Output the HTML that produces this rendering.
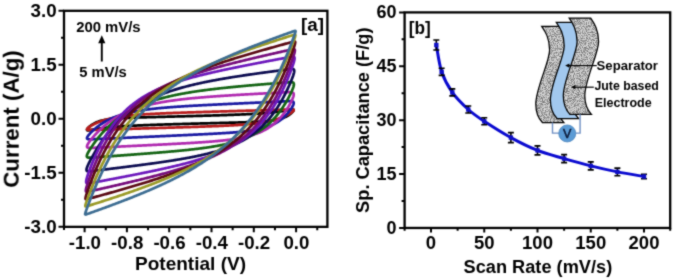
<!DOCTYPE html>
<html><head><meta charset="utf-8"><style>
html,body{margin:0;padding:0;background:#fff;}
body{width:675px;height:279px;overflow:hidden;}
svg{display:block;}
</style></head><body>
<svg width="675" height="279" viewBox="0 0 675 279">
<defs><filter id="gb" x="0" y="0" width="100%" height="100%" color-interpolation-filters="sRGB"><feConvolveMatrix order="3" kernelMatrix="0.03 0.1 0.03 0.1 0.48 0.1 0.03 0.1 0.03" edgeMode="duplicate" preserveAlpha="true"/></filter></defs>
<g filter="url(#gb)"><rect width="675" height="279" fill="#fff"/>
<g font-family='"Liberation Sans", sans-serif' font-weight="bold" fill="#000">
<g fill="none" stroke-width="2.7" stroke-linejoin="round">
<path d="M86.96,129.83 L87.06,129.42 L87.34,128.91 L87.78,128.33 L88.36,127.70 L89.03,127.04 L89.78,126.39 L90.57,125.75 L91.39,125.15 L92.22,124.59 L93.06,124.07 L93.91,123.59 L94.75,123.14 L95.60,122.73 L96.44,122.36 L97.29,122.01 L98.14,121.69 L98.98,121.40 L99.83,121.13 L100.67,120.88 L101.52,120.65 L102.37,120.44 L103.21,120.25 L104.06,120.06 L104.90,119.90 L105.75,119.74 L106.60,119.60 L107.44,119.47 L108.29,119.34 L109.13,119.23 L109.98,119.12 L110.83,119.02 L111.67,118.93 L112.52,118.84 L113.36,118.76 L114.21,118.68 L115.06,118.61 L115.90,118.54 L116.75,118.48 L117.59,118.42 L118.44,118.36 L119.29,118.31 L120.13,118.26 L120.98,118.21 L121.82,118.16 L122.67,118.12 L123.52,118.08 L124.36,118.04 L125.21,118.00 L126.05,117.96 L126.90,117.92 L127.75,117.89 L128.59,117.85 L129.44,117.82 L130.28,117.79 L131.13,117.76 L131.98,117.73 L132.82,117.70 L133.67,117.67 L134.51,117.64 L135.36,117.62 L136.21,117.59 L137.05,117.56 L137.90,117.54 L138.74,117.51 L139.59,117.48 L140.44,117.46 L141.28,117.43 L142.13,117.41 L142.97,117.38 L143.82,117.36 L144.67,117.34 L145.51,117.31 L146.36,117.29 L147.20,117.27 L148.05,117.24 L148.90,117.22 L149.74,117.20 L150.59,117.17 L151.43,117.15 L152.28,117.13 L153.13,117.10 L153.97,117.08 L154.82,117.06 L155.66,117.04 L156.51,117.01 L157.36,116.99 L158.20,116.97 L159.05,116.95 L159.89,116.92 L160.74,116.90 L161.59,116.88 L162.43,116.86 L163.28,116.84 L164.12,116.81 L164.97,116.79 L165.82,116.77 L166.66,116.75 L167.51,116.72 L168.35,116.70 L169.20,116.68 L170.05,116.66 L170.89,116.63 L171.74,116.61 L172.58,116.59 L173.43,116.57 L174.28,116.55 L175.12,116.52 L175.97,116.50 L176.81,116.48 L177.66,116.46 L178.51,116.43 L179.35,116.41 L180.20,116.39 L181.04,116.37 L181.89,116.34 L182.74,116.32 L183.58,116.30 L184.43,116.28 L185.27,116.25 L186.12,116.23 L186.97,116.21 L187.81,116.18 L188.66,116.16 L189.50,116.14 L190.35,116.12 L191.20,116.09 L192.04,116.07 L192.89,116.05 L193.73,116.02 L194.58,116.00 L195.43,115.98 L196.27,115.95 L197.12,115.93 L197.96,115.91 L198.81,115.88 L199.66,115.86 L200.50,115.84 L201.35,115.81 L202.19,115.79 L203.04,115.76 L203.89,115.74 L204.73,115.72 L205.58,115.69 L206.42,115.67 L207.27,115.64 L208.12,115.62 L208.96,115.59 L209.81,115.57 L210.65,115.54 L211.50,115.52 L212.35,115.49 L213.19,115.47 L214.04,115.44 L214.88,115.41 L215.73,115.39 L216.58,115.36 L217.42,115.34 L218.27,115.31 L219.11,115.28 L219.96,115.25 L220.81,115.23 L221.65,115.20 L222.50,115.17 L223.34,115.14 L224.19,115.12 L225.04,115.09 L225.88,115.06 L226.73,115.03 L227.57,115.00 L228.42,114.97 L229.27,114.94 L230.11,114.91 L230.96,114.88 L231.80,114.85 L232.65,114.82 L233.50,114.78 L234.34,114.75 L235.19,114.72 L236.03,114.69 L236.88,114.65 L237.73,114.62 L238.57,114.58 L239.42,114.55 L240.26,114.51 L241.11,114.48 L241.96,114.44 L242.80,114.40 L243.65,114.36 L244.49,114.32 L245.34,114.28 L246.19,114.24 L247.03,114.20 L247.88,114.16 L248.72,114.12 L249.57,114.07 L250.42,114.03 L251.26,113.98 L252.11,113.94 L252.95,113.89 L253.80,113.84 L254.65,113.79 L255.49,113.74 L256.34,113.69 L257.18,113.64 L258.03,113.58 L258.88,113.52 L259.72,113.47 L260.57,113.41 L261.41,113.35 L262.26,113.29 L263.11,113.22 L263.95,113.16 L264.80,113.09 L265.64,113.02 L266.49,112.95 L267.34,112.88 L268.18,112.80 L269.03,112.73 L269.87,112.65 L270.72,112.57 L271.57,112.48 L272.41,112.39 L273.26,112.30 L274.10,112.21 L274.95,112.12 L275.80,112.02 L276.64,111.92 L277.49,111.81 L278.33,111.71 L279.18,111.60 L280.03,111.48 L280.87,111.36 L281.72,111.24 L282.56,111.11 L283.41,110.98 L284.26,110.85 L285.10,110.70 L285.95,110.56 L286.79,110.41 L287.64,110.26 L288.48,110.10 L289.31,109.94 L290.13,109.79 L290.92,109.65 L291.67,109.54 L292.34,109.47 L292.92,109.47 L293.36,109.55 L293.64,109.73 L293.74,110.03 L293.64,110.44 L293.36,110.95 L292.92,111.53 L292.34,112.16 L291.67,112.82 L290.92,113.47 L290.13,114.11 L289.31,114.71 L288.48,115.27 L287.64,115.79 L286.79,116.27 L285.95,116.72 L285.10,117.13 L284.26,117.50 L283.41,117.85 L282.56,118.17 L281.72,118.46 L280.87,118.73 L280.03,118.98 L279.18,119.21 L278.33,119.42 L277.49,119.61 L276.64,119.80 L275.80,119.96 L274.95,120.12 L274.10,120.26 L273.26,120.39 L272.41,120.52 L271.57,120.63 L270.72,120.74 L269.87,120.84 L269.03,120.93 L268.18,121.02 L267.34,121.10 L266.49,121.18 L265.64,121.25 L264.80,121.32 L263.95,121.38 L263.11,121.44 L262.26,121.50 L261.41,121.55 L260.57,121.60 L259.72,121.65 L258.88,121.70 L258.03,121.74 L257.18,121.78 L256.34,121.82 L255.49,121.86 L254.65,121.90 L253.80,121.94 L252.95,121.97 L252.11,122.01 L251.26,122.04 L250.42,122.07 L249.57,122.10 L248.72,122.13 L247.88,122.16 L247.03,122.19 L246.19,122.22 L245.34,122.24 L244.49,122.27 L243.65,122.30 L242.80,122.32 L241.96,122.35 L241.11,122.38 L240.26,122.40 L239.42,122.43 L238.57,122.45 L237.73,122.48 L236.88,122.50 L236.03,122.52 L235.19,122.55 L234.34,122.57 L233.50,122.59 L232.65,122.62 L231.80,122.64 L230.96,122.66 L230.11,122.69 L229.27,122.71 L228.42,122.73 L227.57,122.76 L226.73,122.78 L225.88,122.80 L225.04,122.82 L224.19,122.85 L223.34,122.87 L222.50,122.89 L221.65,122.91 L220.81,122.94 L219.96,122.96 L219.11,122.98 L218.27,123.00 L217.42,123.02 L216.58,123.05 L215.73,123.07 L214.88,123.09 L214.04,123.11 L213.19,123.14 L212.35,123.16 L211.50,123.18 L210.65,123.20 L209.81,123.23 L208.96,123.25 L208.12,123.27 L207.27,123.29 L206.42,123.31 L205.58,123.34 L204.73,123.36 L203.89,123.38 L203.04,123.40 L202.19,123.43 L201.35,123.45 L200.50,123.47 L199.66,123.49 L198.81,123.52 L197.96,123.54 L197.12,123.56 L196.27,123.58 L195.43,123.61 L194.58,123.63 L193.73,123.65 L192.89,123.68 L192.04,123.70 L191.20,123.72 L190.35,123.74 L189.50,123.77 L188.66,123.79 L187.81,123.81 L186.97,123.84 L186.12,123.86 L185.27,123.88 L184.43,123.91 L183.58,123.93 L182.74,123.95 L181.89,123.98 L181.04,124.00 L180.20,124.02 L179.35,124.05 L178.51,124.07 L177.66,124.10 L176.81,124.12 L175.97,124.14 L175.12,124.17 L174.28,124.19 L173.43,124.22 L172.58,124.24 L171.74,124.27 L170.89,124.29 L170.05,124.32 L169.20,124.34 L168.35,124.37 L167.51,124.39 L166.66,124.42 L165.82,124.45 L164.97,124.47 L164.12,124.50 L163.28,124.52 L162.43,124.55 L161.59,124.58 L160.74,124.61 L159.89,124.63 L159.05,124.66 L158.20,124.69 L157.36,124.72 L156.51,124.74 L155.66,124.77 L154.82,124.80 L153.97,124.83 L153.13,124.86 L152.28,124.89 L151.43,124.92 L150.59,124.95 L149.74,124.98 L148.90,125.01 L148.05,125.04 L147.20,125.08 L146.36,125.11 L145.51,125.14 L144.67,125.17 L143.82,125.21 L142.97,125.24 L142.13,125.28 L141.28,125.31 L140.44,125.35 L139.59,125.38 L138.74,125.42 L137.90,125.46 L137.05,125.50 L136.21,125.54 L135.36,125.58 L134.51,125.62 L133.67,125.66 L132.82,125.70 L131.98,125.74 L131.13,125.79 L130.28,125.83 L129.44,125.88 L128.59,125.92 L127.75,125.97 L126.90,126.02 L126.05,126.07 L125.21,126.12 L124.36,126.17 L123.52,126.22 L122.67,126.28 L121.82,126.34 L120.98,126.39 L120.13,126.45 L119.29,126.51 L118.44,126.57 L117.59,126.64 L116.75,126.70 L115.90,126.77 L115.06,126.84 L114.21,126.91 L113.36,126.98 L112.52,127.06 L111.67,127.13 L110.83,127.21 L109.98,127.29 L109.13,127.38 L108.29,127.47 L107.44,127.56 L106.60,127.65 L105.75,127.74 L104.90,127.84 L104.06,127.94 L103.21,128.05 L102.37,128.15 L101.52,128.26 L100.67,128.38 L99.83,128.50 L98.98,128.62 L98.14,128.75 L97.29,128.88 L96.44,129.01 L95.60,129.16 L94.75,129.30 L93.91,129.45 L93.06,129.60 L92.22,129.76 L91.39,129.92 L90.57,130.07 L89.78,130.21 L89.03,130.32 L88.36,130.39 L87.78,130.39 L87.34,130.31 L87.06,130.13Z" stroke="#000000"/>
<path d="M86.96,129.25 L87.06,128.93 L87.34,128.54 L87.78,128.11 L88.36,127.64 L89.03,127.14 L89.78,126.64 L90.57,126.15 L91.39,125.66 L92.22,125.18 L93.06,124.73 L93.91,124.29 L94.75,123.86 L95.60,123.46 L96.44,123.07 L97.29,122.70 L98.14,122.34 L98.98,122.00 L99.83,121.67 L100.67,121.35 L101.52,121.05 L102.37,120.75 L103.21,120.47 L104.06,120.21 L104.90,119.95 L105.75,119.70 L106.60,119.46 L107.44,119.23 L108.29,119.01 L109.13,118.80 L109.98,118.60 L110.83,118.40 L111.67,118.21 L112.52,118.03 L113.36,117.86 L114.21,117.69 L115.06,117.53 L115.90,117.37 L116.75,117.22 L117.59,117.08 L118.44,116.94 L119.29,116.81 L120.13,116.68 L120.98,116.55 L121.82,116.43 L122.67,116.31 L123.52,116.20 L124.36,116.09 L125.21,115.99 L126.05,115.89 L126.90,115.79 L127.75,115.69 L128.59,115.60 L129.44,115.51 L130.28,115.43 L131.13,115.34 L131.98,115.26 L132.82,115.18 L133.67,115.11 L134.51,115.03 L135.36,114.96 L136.21,114.89 L137.05,114.83 L137.90,114.76 L138.74,114.70 L139.59,114.63 L140.44,114.57 L141.28,114.51 L142.13,114.46 L142.97,114.40 L143.82,114.35 L144.67,114.29 L145.51,114.24 L146.36,114.19 L147.20,114.14 L148.05,114.09 L148.90,114.04 L149.74,114.00 L150.59,113.95 L151.43,113.91 L152.28,113.86 L153.13,113.82 L153.97,113.78 L154.82,113.74 L155.66,113.69 L156.51,113.65 L157.36,113.62 L158.20,113.58 L159.05,113.54 L159.89,113.50 L160.74,113.46 L161.59,113.43 L162.43,113.39 L163.28,113.36 L164.12,113.32 L164.97,113.29 L165.82,113.25 L166.66,113.22 L167.51,113.19 L168.35,113.15 L169.20,113.12 L170.05,113.09 L170.89,113.06 L171.74,113.03 L172.58,112.99 L173.43,112.96 L174.28,112.93 L175.12,112.90 L175.97,112.87 L176.81,112.84 L177.66,112.81 L178.51,112.78 L179.35,112.76 L180.20,112.73 L181.04,112.70 L181.89,112.67 L182.74,112.64 L183.58,112.61 L184.43,112.58 L185.27,112.56 L186.12,112.53 L186.97,112.50 L187.81,112.47 L188.66,112.45 L189.50,112.42 L190.35,112.39 L191.20,112.36 L192.04,112.34 L192.89,112.31 L193.73,112.28 L194.58,112.26 L195.43,112.23 L196.27,112.20 L197.12,112.18 L197.96,112.15 L198.81,112.13 L199.66,112.10 L200.50,112.07 L201.35,112.05 L202.19,112.02 L203.04,112.00 L203.89,111.97 L204.73,111.94 L205.58,111.92 L206.42,111.89 L207.27,111.87 L208.12,111.84 L208.96,111.82 L209.81,111.79 L210.65,111.77 L211.50,111.74 L212.35,111.72 L213.19,111.69 L214.04,111.67 L214.88,111.64 L215.73,111.61 L216.58,111.59 L217.42,111.56 L218.27,111.54 L219.11,111.51 L219.96,111.49 L220.81,111.46 L221.65,111.44 L222.50,111.41 L223.34,111.39 L224.19,111.36 L225.04,111.34 L225.88,111.31 L226.73,111.29 L227.57,111.27 L228.42,111.24 L229.27,111.22 L230.11,111.19 L230.96,111.17 L231.80,111.14 L232.65,111.12 L233.50,111.09 L234.34,111.07 L235.19,111.04 L236.03,111.02 L236.88,110.99 L237.73,110.97 L238.57,110.94 L239.42,110.92 L240.26,110.89 L241.11,110.87 L241.96,110.84 L242.80,110.82 L243.65,110.80 L244.49,110.77 L245.34,110.75 L246.19,110.72 L247.03,110.70 L247.88,110.67 L248.72,110.65 L249.57,110.62 L250.42,110.60 L251.26,110.57 L252.11,110.55 L252.95,110.52 L253.80,110.50 L254.65,110.48 L255.49,110.45 L256.34,110.43 L257.18,110.40 L258.03,110.38 L258.88,110.35 L259.72,110.33 L260.57,110.30 L261.41,110.28 L262.26,110.25 L263.11,110.23 L263.95,110.21 L264.80,110.18 L265.64,110.16 L266.49,110.13 L267.34,110.11 L268.18,110.08 L269.03,110.06 L269.87,110.03 L270.72,110.01 L271.57,109.98 L272.41,109.96 L273.26,109.94 L274.10,109.91 L274.95,109.89 L275.80,109.86 L276.64,109.84 L277.49,109.81 L278.33,109.79 L279.18,109.76 L280.03,109.74 L280.87,109.72 L281.72,109.69 L282.56,109.67 L283.41,109.64 L284.26,109.62 L285.10,109.59 L285.95,109.57 L286.79,109.54 L287.64,109.52 L288.48,109.50 L289.31,109.48 L290.13,109.47 L290.92,109.46 L291.67,109.48 L292.34,109.52 L292.92,109.60 L293.36,109.73 L293.64,109.92 L293.74,110.18 L293.64,110.50 L293.36,110.88 L292.92,111.32 L292.34,111.79 L291.67,112.28 L290.92,112.78 L290.13,113.28 L289.31,113.77 L288.48,114.24 L287.64,114.70 L286.79,115.14 L285.95,115.56 L285.10,115.97 L284.26,116.36 L283.41,116.73 L282.56,117.09 L281.72,117.43 L280.87,117.76 L280.03,118.08 L279.18,118.38 L278.33,118.67 L277.49,118.95 L276.64,119.22 L275.80,119.48 L274.95,119.73 L274.10,119.97 L273.26,120.20 L272.41,120.42 L271.57,120.63 L270.72,120.83 L269.87,121.03 L269.03,121.21 L268.18,121.40 L267.34,121.57 L266.49,121.74 L265.64,121.90 L264.80,122.05 L263.95,122.20 L263.11,122.35 L262.26,122.49 L261.41,122.62 L260.57,122.75 L259.72,122.88 L258.88,123.00 L258.03,123.11 L257.18,123.23 L256.34,123.33 L255.49,123.44 L254.65,123.54 L253.80,123.64 L252.95,123.73 L252.11,123.83 L251.26,123.91 L250.42,124.00 L249.57,124.08 L248.72,124.16 L247.88,124.24 L247.03,124.32 L246.19,124.39 L245.34,124.46 L244.49,124.53 L243.65,124.60 L242.80,124.67 L241.96,124.73 L241.11,124.79 L240.26,124.85 L239.42,124.91 L238.57,124.97 L237.73,125.03 L236.88,125.08 L236.03,125.14 L235.19,125.19 L234.34,125.24 L233.50,125.29 L232.65,125.34 L231.80,125.38 L230.96,125.43 L230.11,125.48 L229.27,125.52 L228.42,125.57 L227.57,125.61 L226.73,125.65 L225.88,125.69 L225.04,125.73 L224.19,125.77 L223.34,125.81 L222.50,125.85 L221.65,125.89 L220.81,125.93 L219.96,125.96 L219.11,126.00 L218.27,126.04 L217.42,126.07 L216.58,126.11 L215.73,126.14 L214.88,126.17 L214.04,126.21 L213.19,126.24 L212.35,126.27 L211.50,126.31 L210.65,126.34 L209.81,126.37 L208.96,126.40 L208.12,126.43 L207.27,126.46 L206.42,126.49 L205.58,126.52 L204.73,126.55 L203.89,126.58 L203.04,126.61 L202.19,126.64 L201.35,126.67 L200.50,126.70 L199.66,126.73 L198.81,126.76 L197.96,126.79 L197.12,126.82 L196.27,126.84 L195.43,126.87 L194.58,126.90 L193.73,126.93 L192.89,126.95 L192.04,126.98 L191.20,127.01 L190.35,127.04 L189.50,127.06 L188.66,127.09 L187.81,127.12 L186.97,127.14 L186.12,127.17 L185.27,127.20 L184.43,127.22 L183.58,127.25 L182.74,127.28 L181.89,127.30 L181.04,127.33 L180.20,127.35 L179.35,127.38 L178.51,127.41 L177.66,127.43 L176.81,127.46 L175.97,127.48 L175.12,127.51 L174.28,127.53 L173.43,127.56 L172.58,127.59 L171.74,127.61 L170.89,127.64 L170.05,127.66 L169.20,127.69 L168.35,127.71 L167.51,127.74 L166.66,127.76 L165.82,127.79 L164.97,127.81 L164.12,127.84 L163.28,127.86 L162.43,127.89 L161.59,127.91 L160.74,127.94 L159.89,127.96 L159.05,127.99 L158.20,128.01 L157.36,128.04 L156.51,128.06 L155.66,128.09 L154.82,128.11 L153.97,128.14 L153.13,128.16 L152.28,128.19 L151.43,128.21 L150.59,128.24 L149.74,128.26 L148.90,128.29 L148.05,128.31 L147.20,128.34 L146.36,128.36 L145.51,128.39 L144.67,128.41 L143.82,128.44 L142.97,128.46 L142.13,128.48 L141.28,128.51 L140.44,128.53 L139.59,128.56 L138.74,128.58 L137.90,128.61 L137.05,128.63 L136.21,128.66 L135.36,128.68 L134.51,128.71 L133.67,128.73 L132.82,128.76 L131.98,128.78 L131.13,128.81 L130.28,128.83 L129.44,128.85 L128.59,128.88 L127.75,128.90 L126.90,128.93 L126.05,128.95 L125.21,128.98 L124.36,129.00 L123.52,129.03 L122.67,129.05 L121.82,129.08 L120.98,129.10 L120.13,129.12 L119.29,129.15 L118.44,129.17 L117.59,129.20 L116.75,129.22 L115.90,129.25 L115.06,129.27 L114.21,129.30 L113.36,129.32 L112.52,129.35 L111.67,129.37 L110.83,129.39 L109.98,129.42 L109.13,129.44 L108.29,129.47 L107.44,129.49 L106.60,129.52 L105.75,129.54 L104.90,129.57 L104.06,129.59 L103.21,129.61 L102.37,129.64 L101.52,129.66 L100.67,129.69 L99.83,129.71 L98.98,129.74 L98.14,129.76 L97.29,129.79 L96.44,129.81 L95.60,129.84 L94.75,129.86 L93.91,129.88 L93.06,129.91 L92.22,129.93 L91.39,129.95 L90.57,129.96 L89.78,129.97 L89.03,129.95 L88.36,129.91 L87.78,129.83 L87.34,129.70 L87.06,129.51Z" stroke="#b81c1c"/>
<path d="M86.96,138.14 L87.06,137.60 L87.34,136.96 L87.78,136.23 L88.36,135.45 L89.03,134.62 L89.78,133.77 L90.57,132.92 L91.39,132.09 L92.22,131.27 L93.06,130.47 L93.91,129.70 L94.75,128.96 L95.60,128.24 L96.44,127.55 L97.29,126.87 L98.14,126.22 L98.98,125.60 L99.83,124.99 L100.67,124.41 L101.52,123.84 L102.37,123.29 L103.21,122.76 L104.06,122.25 L104.90,121.76 L105.75,121.28 L106.60,120.81 L107.44,120.37 L108.29,119.93 L109.13,119.51 L109.98,119.11 L110.83,118.72 L111.67,118.34 L112.52,117.97 L113.36,117.62 L114.21,117.27 L115.06,116.94 L115.90,116.62 L116.75,116.30 L117.59,116.00 L118.44,115.71 L119.29,115.42 L120.13,115.15 L120.98,114.88 L121.82,114.62 L122.67,114.37 L123.52,114.13 L124.36,113.89 L125.21,113.66 L126.05,113.44 L126.90,113.23 L127.75,113.02 L128.59,112.82 L129.44,112.62 L130.28,112.43 L131.13,112.24 L131.98,112.06 L132.82,111.89 L133.67,111.71 L134.51,111.55 L135.36,111.39 L136.21,111.23 L137.05,111.08 L137.90,110.93 L138.74,110.79 L139.59,110.64 L140.44,110.51 L141.28,110.37 L142.13,110.24 L142.97,110.12 L143.82,109.99 L144.67,109.87 L145.51,109.76 L146.36,109.64 L147.20,109.53 L148.05,109.42 L148.90,109.31 L149.74,109.21 L150.59,109.11 L151.43,109.01 L152.28,108.91 L153.13,108.82 L153.97,108.72 L154.82,108.63 L155.66,108.54 L156.51,108.45 L157.36,108.37 L158.20,108.28 L159.05,108.20 L159.89,108.12 L160.74,108.04 L161.59,107.96 L162.43,107.89 L163.28,107.81 L164.12,107.74 L164.97,107.67 L165.82,107.60 L166.66,107.53 L167.51,107.46 L168.35,107.39 L169.20,107.32 L170.05,107.26 L170.89,107.19 L171.74,107.13 L172.58,107.07 L173.43,107.01 L174.28,106.94 L175.12,106.88 L175.97,106.83 L176.81,106.77 L177.66,106.71 L178.51,106.65 L179.35,106.60 L180.20,106.54 L181.04,106.48 L181.89,106.43 L182.74,106.38 L183.58,106.32 L184.43,106.27 L185.27,106.22 L186.12,106.17 L186.97,106.12 L187.81,106.06 L188.66,106.01 L189.50,105.96 L190.35,105.92 L191.20,105.87 L192.04,105.82 L192.89,105.77 L193.73,105.72 L194.58,105.67 L195.43,105.63 L196.27,105.58 L197.12,105.53 L197.96,105.49 L198.81,105.44 L199.66,105.40 L200.50,105.35 L201.35,105.31 L202.19,105.26 L203.04,105.22 L203.89,105.17 L204.73,105.13 L205.58,105.09 L206.42,105.04 L207.27,105.00 L208.12,104.96 L208.96,104.91 L209.81,104.87 L210.65,104.83 L211.50,104.79 L212.35,104.74 L213.19,104.70 L214.04,104.66 L214.88,104.62 L215.73,104.58 L216.58,104.53 L217.42,104.49 L218.27,104.45 L219.11,104.41 L219.96,104.37 L220.81,104.33 L221.65,104.29 L222.50,104.25 L223.34,104.21 L224.19,104.17 L225.04,104.13 L225.88,104.09 L226.73,104.05 L227.57,104.01 L228.42,103.97 L229.27,103.93 L230.11,103.89 L230.96,103.85 L231.80,103.81 L232.65,103.77 L233.50,103.73 L234.34,103.69 L235.19,103.65 L236.03,103.61 L236.88,103.57 L237.73,103.53 L238.57,103.49 L239.42,103.45 L240.26,103.41 L241.11,103.37 L241.96,103.33 L242.80,103.30 L243.65,103.26 L244.49,103.22 L245.34,103.18 L246.19,103.14 L247.03,103.10 L247.88,103.06 L248.72,103.02 L249.57,102.99 L250.42,102.95 L251.26,102.91 L252.11,102.87 L252.95,102.83 L253.80,102.79 L254.65,102.75 L255.49,102.72 L256.34,102.68 L257.18,102.64 L258.03,102.60 L258.88,102.56 L259.72,102.52 L260.57,102.49 L261.41,102.45 L262.26,102.41 L263.11,102.37 L263.95,102.33 L264.80,102.29 L265.64,102.26 L266.49,102.22 L267.34,102.18 L268.18,102.14 L269.03,102.10 L269.87,102.07 L270.72,102.03 L271.57,101.99 L272.41,101.95 L273.26,101.91 L274.10,101.88 L274.95,101.84 L275.80,101.80 L276.64,101.76 L277.49,101.72 L278.33,101.69 L279.18,101.65 L280.03,101.61 L280.87,101.57 L281.72,101.53 L282.56,101.50 L283.41,101.46 L284.26,101.42 L285.10,101.38 L285.95,101.34 L286.79,101.31 L287.64,101.27 L288.48,101.24 L289.31,101.21 L290.13,101.20 L290.92,101.21 L291.67,101.27 L292.34,101.38 L292.92,101.59 L293.36,101.91 L293.64,102.38 L293.74,102.99 L293.64,103.76 L293.36,104.67 L292.92,105.68 L292.34,106.77 L291.67,107.90 L290.92,109.05 L290.13,110.17 L289.31,111.26 L288.48,112.31 L287.64,113.32 L286.79,114.27 L285.95,115.18 L285.10,116.04 L284.26,116.86 L283.41,117.64 L282.56,118.37 L281.72,119.07 L280.87,119.74 L280.03,120.37 L279.18,120.97 L278.33,121.54 L277.49,122.08 L276.64,122.59 L275.80,123.08 L274.95,123.55 L274.10,123.99 L273.26,124.41 L272.41,124.81 L271.57,125.19 L270.72,125.55 L269.87,125.90 L269.03,126.23 L268.18,126.54 L267.34,126.84 L266.49,127.13 L265.64,127.40 L264.80,127.66 L263.95,127.90 L263.11,128.14 L262.26,128.37 L261.41,128.58 L260.57,128.79 L259.72,128.98 L258.88,129.17 L258.03,129.35 L257.18,129.53 L256.34,129.69 L255.49,129.85 L254.65,130.00 L253.80,130.15 L252.95,130.29 L252.11,130.42 L251.26,130.55 L250.42,130.68 L249.57,130.80 L248.72,130.92 L247.88,131.03 L247.03,131.13 L246.19,131.24 L245.34,131.34 L244.49,131.44 L243.65,131.53 L242.80,131.62 L241.96,131.71 L241.11,131.79 L240.26,131.88 L239.42,131.96 L238.57,132.04 L237.73,132.11 L236.88,132.19 L236.03,132.26 L235.19,132.33 L234.34,132.40 L233.50,132.46 L232.65,132.53 L231.80,132.59 L230.96,132.66 L230.11,132.72 L229.27,132.78 L228.42,132.84 L227.57,132.89 L226.73,132.95 L225.88,133.01 L225.04,133.06 L224.19,133.11 L223.34,133.17 L222.50,133.22 L221.65,133.27 L220.81,133.32 L219.96,133.37 L219.11,133.42 L218.27,133.47 L217.42,133.52 L216.58,133.56 L215.73,133.61 L214.88,133.66 L214.04,133.70 L213.19,133.75 L212.35,133.79 L211.50,133.84 L210.65,133.88 L209.81,133.93 L208.96,133.97 L208.12,134.01 L207.27,134.06 L206.42,134.10 L205.58,134.14 L204.73,134.18 L203.89,134.23 L203.04,134.27 L202.19,134.31 L201.35,134.35 L200.50,134.39 L199.66,134.43 L198.81,134.47 L197.96,134.51 L197.12,134.56 L196.27,134.60 L195.43,134.64 L194.58,134.68 L193.73,134.72 L192.89,134.76 L192.04,134.80 L191.20,134.83 L190.35,134.87 L189.50,134.91 L188.66,134.95 L187.81,134.99 L186.97,135.03 L186.12,135.07 L185.27,135.11 L184.43,135.15 L183.58,135.19 L182.74,135.23 L181.89,135.26 L181.04,135.30 L180.20,135.34 L179.35,135.38 L178.51,135.42 L177.66,135.46 L176.81,135.50 L175.97,135.53 L175.12,135.57 L174.28,135.61 L173.43,135.65 L172.58,135.69 L171.74,135.73 L170.89,135.76 L170.05,135.80 L169.20,135.84 L168.35,135.88 L167.51,135.92 L166.66,135.96 L165.82,135.99 L164.97,136.03 L164.12,136.07 L163.28,136.11 L162.43,136.15 L161.59,136.18 L160.74,136.22 L159.89,136.26 L159.05,136.30 L158.20,136.34 L157.36,136.37 L156.51,136.41 L155.66,136.45 L154.82,136.49 L153.97,136.53 L153.13,136.56 L152.28,136.60 L151.43,136.64 L150.59,136.68 L149.74,136.71 L148.90,136.75 L148.05,136.79 L147.20,136.83 L146.36,136.87 L145.51,136.90 L144.67,136.94 L143.82,136.98 L142.97,137.02 L142.13,137.06 L141.28,137.09 L140.44,137.13 L139.59,137.17 L138.74,137.21 L137.90,137.24 L137.05,137.28 L136.21,137.32 L135.36,137.36 L134.51,137.40 L133.67,137.43 L132.82,137.47 L131.98,137.51 L131.13,137.55 L130.28,137.58 L129.44,137.62 L128.59,137.66 L127.75,137.70 L126.90,137.74 L126.05,137.77 L125.21,137.81 L124.36,137.85 L123.52,137.89 L122.67,137.92 L121.82,137.96 L120.98,138.00 L120.13,138.04 L119.29,138.07 L118.44,138.11 L117.59,138.15 L116.75,138.19 L115.90,138.23 L115.06,138.26 L114.21,138.30 L113.36,138.34 L112.52,138.38 L111.67,138.41 L110.83,138.45 L109.98,138.49 L109.13,138.53 L108.29,138.57 L107.44,138.60 L106.60,138.64 L105.75,138.68 L104.90,138.72 L104.06,138.75 L103.21,138.79 L102.37,138.83 L101.52,138.87 L100.67,138.91 L99.83,138.94 L98.98,138.98 L98.14,139.02 L97.29,139.06 L96.44,139.09 L95.60,139.13 L94.75,139.17 L93.91,139.21 L93.06,139.24 L92.22,139.28 L91.39,139.31 L90.57,139.33 L89.78,139.33 L89.03,139.30 L88.36,139.23 L87.78,139.10 L87.34,138.88 L87.06,138.57Z" stroke="#1a1aa2"/>
<path d="M86.96,146.50 L87.06,145.86 L87.34,145.09 L87.78,144.22 L88.36,143.26 L89.03,142.26 L89.78,141.22 L90.57,140.18 L91.39,139.15 L92.22,138.12 L93.06,137.12 L93.91,136.15 L94.75,135.19 L95.60,134.26 L96.44,133.35 L97.29,132.47 L98.14,131.60 L98.98,130.76 L99.83,129.94 L100.67,129.14 L101.52,128.36 L102.37,127.60 L103.21,126.86 L104.06,126.14 L104.90,125.43 L105.75,124.75 L106.60,124.08 L107.44,123.42 L108.29,122.78 L109.13,122.16 L109.98,121.56 L110.83,120.96 L111.67,120.39 L112.52,119.82 L113.36,119.27 L114.21,118.74 L115.06,118.22 L115.90,117.71 L116.75,117.21 L117.59,116.72 L118.44,116.25 L119.29,115.79 L120.13,115.33 L120.98,114.89 L121.82,114.46 L122.67,114.04 L123.52,113.63 L124.36,113.23 L125.21,112.84 L126.05,112.46 L126.90,112.09 L127.75,111.73 L128.59,111.37 L129.44,111.02 L130.28,110.69 L131.13,110.35 L131.98,110.03 L132.82,109.71 L133.67,109.41 L134.51,109.10 L135.36,108.81 L136.21,108.52 L137.05,108.24 L137.90,107.97 L138.74,107.70 L139.59,107.43 L140.44,107.18 L141.28,106.93 L142.13,106.68 L142.97,106.44 L143.82,106.20 L144.67,105.97 L145.51,105.75 L146.36,105.53 L147.20,105.31 L148.05,105.10 L148.90,104.90 L149.74,104.69 L150.59,104.50 L151.43,104.30 L152.28,104.11 L153.13,103.93 L153.97,103.75 L154.82,103.57 L155.66,103.39 L156.51,103.22 L157.36,103.06 L158.20,102.89 L159.05,102.73 L159.89,102.57 L160.74,102.42 L161.59,102.27 L162.43,102.12 L163.28,101.97 L164.12,101.83 L164.97,101.69 L165.82,101.55 L166.66,101.42 L167.51,101.29 L168.35,101.15 L169.20,101.03 L170.05,100.90 L170.89,100.78 L171.74,100.66 L172.58,100.54 L173.43,100.42 L174.28,100.31 L175.12,100.19 L175.97,100.08 L176.81,99.97 L177.66,99.87 L178.51,99.76 L179.35,99.66 L180.20,99.56 L181.04,99.46 L181.89,99.36 L182.74,99.26 L183.58,99.16 L184.43,99.07 L185.27,98.98 L186.12,98.88 L186.97,98.79 L187.81,98.70 L188.66,98.62 L189.50,98.53 L190.35,98.45 L191.20,98.36 L192.04,98.28 L192.89,98.20 L193.73,98.12 L194.58,98.04 L195.43,97.96 L196.27,97.88 L197.12,97.80 L197.96,97.73 L198.81,97.65 L199.66,97.58 L200.50,97.51 L201.35,97.44 L202.19,97.37 L203.04,97.29 L203.89,97.23 L204.73,97.16 L205.58,97.09 L206.42,97.02 L207.27,96.95 L208.12,96.89 L208.96,96.82 L209.81,96.76 L210.65,96.70 L211.50,96.63 L212.35,96.57 L213.19,96.51 L214.04,96.45 L214.88,96.38 L215.73,96.32 L216.58,96.26 L217.42,96.21 L218.27,96.15 L219.11,96.09 L219.96,96.03 L220.81,95.97 L221.65,95.92 L222.50,95.86 L223.34,95.80 L224.19,95.75 L225.04,95.69 L225.88,95.64 L226.73,95.58 L227.57,95.53 L228.42,95.48 L229.27,95.42 L230.11,95.37 L230.96,95.32 L231.80,95.26 L232.65,95.21 L233.50,95.16 L234.34,95.11 L235.19,95.06 L236.03,95.01 L236.88,94.96 L237.73,94.91 L238.57,94.86 L239.42,94.81 L240.26,94.76 L241.11,94.71 L241.96,94.66 L242.80,94.61 L243.65,94.56 L244.49,94.51 L245.34,94.46 L246.19,94.42 L247.03,94.37 L247.88,94.32 L248.72,94.27 L249.57,94.23 L250.42,94.18 L251.26,94.13 L252.11,94.09 L252.95,94.04 L253.80,93.99 L254.65,93.95 L255.49,93.90 L256.34,93.86 L257.18,93.81 L258.03,93.76 L258.88,93.72 L259.72,93.67 L260.57,93.63 L261.41,93.58 L262.26,93.54 L263.11,93.49 L263.95,93.45 L264.80,93.41 L265.64,93.36 L266.49,93.32 L267.34,93.27 L268.18,93.23 L269.03,93.18 L269.87,93.14 L270.72,93.10 L271.57,93.05 L272.41,93.01 L273.26,92.97 L274.10,92.92 L274.95,92.88 L275.80,92.84 L276.64,92.79 L277.49,92.75 L278.33,92.71 L279.18,92.66 L280.03,92.62 L280.87,92.58 L281.72,92.54 L282.56,92.49 L283.41,92.45 L284.26,92.41 L285.10,92.37 L285.95,92.32 L286.79,92.28 L287.64,92.24 L288.48,92.21 L289.31,92.18 L290.13,92.17 L290.92,92.19 L291.67,92.26 L292.34,92.41 L292.92,92.68 L293.36,93.08 L293.64,93.67 L293.74,94.45 L293.64,95.43 L293.36,96.58 L292.92,97.88 L292.34,99.29 L291.67,100.75 L290.92,102.24 L290.13,103.73 L289.31,105.18 L288.48,106.60 L287.64,107.96 L286.79,109.28 L285.95,110.54 L285.10,111.75 L284.26,112.91 L283.41,114.03 L282.56,115.10 L281.72,116.13 L280.87,117.12 L280.03,118.07 L279.18,118.98 L278.33,119.85 L277.49,120.69 L276.64,121.50 L275.80,122.27 L274.95,123.02 L274.10,123.73 L273.26,124.42 L272.41,125.08 L271.57,125.71 L270.72,126.32 L269.87,126.91 L269.03,127.47 L268.18,128.01 L267.34,128.53 L266.49,129.03 L265.64,129.51 L264.80,129.97 L263.95,130.42 L263.11,130.85 L262.26,131.26 L261.41,131.65 L260.57,132.04 L259.72,132.40 L258.88,132.76 L258.03,133.10 L257.18,133.43 L256.34,133.74 L255.49,134.05 L254.65,134.34 L253.80,134.62 L252.95,134.90 L252.11,135.16 L251.26,135.41 L250.42,135.66 L249.57,135.89 L248.72,136.12 L247.88,136.34 L247.03,136.56 L246.19,136.76 L245.34,136.96 L244.49,137.15 L243.65,137.34 L242.80,137.52 L241.96,137.69 L241.11,137.86 L240.26,138.02 L239.42,138.18 L238.57,138.33 L237.73,138.48 L236.88,138.63 L236.03,138.77 L235.19,138.90 L234.34,139.03 L233.50,139.16 L232.65,139.29 L231.80,139.41 L230.96,139.52 L230.11,139.64 L229.27,139.75 L228.42,139.86 L227.57,139.96 L226.73,140.06 L225.88,140.16 L225.04,140.26 L224.19,140.36 L223.34,140.45 L222.50,140.54 L221.65,140.63 L220.81,140.71 L219.96,140.80 L219.11,140.88 L218.27,140.96 L217.42,141.04 L216.58,141.12 L215.73,141.19 L214.88,141.27 L214.04,141.34 L213.19,141.41 L212.35,141.48 L211.50,141.55 L210.65,141.62 L209.81,141.69 L208.96,141.75 L208.12,141.82 L207.27,141.88 L206.42,141.94 L205.58,142.00 L204.73,142.07 L203.89,142.13 L203.04,142.18 L202.19,142.24 L201.35,142.30 L200.50,142.36 L199.66,142.41 L198.81,142.47 L197.96,142.52 L197.12,142.58 L196.27,142.63 L195.43,142.68 L194.58,142.74 L193.73,142.79 L192.89,142.84 L192.04,142.89 L191.20,142.94 L190.35,142.99 L189.50,143.04 L188.66,143.09 L187.81,143.14 L186.97,143.19 L186.12,143.24 L185.27,143.29 L184.43,143.33 L183.58,143.38 L182.74,143.43 L181.89,143.47 L181.04,143.52 L180.20,143.57 L179.35,143.61 L178.51,143.66 L177.66,143.70 L176.81,143.75 L175.97,143.79 L175.12,143.84 L174.28,143.88 L173.43,143.93 L172.58,143.97 L171.74,144.02 L170.89,144.06 L170.05,144.10 L169.20,144.15 L168.35,144.19 L167.51,144.23 L166.66,144.28 L165.82,144.32 L164.97,144.36 L164.12,144.41 L163.28,144.45 L162.43,144.49 L161.59,144.53 L160.74,144.58 L159.89,144.62 L159.05,144.66 L158.20,144.70 L157.36,144.75 L156.51,144.79 L155.66,144.83 L154.82,144.87 L153.97,144.91 L153.13,144.95 L152.28,145.00 L151.43,145.04 L150.59,145.08 L149.74,145.12 L148.90,145.16 L148.05,145.20 L147.20,145.24 L146.36,145.29 L145.51,145.33 L144.67,145.37 L143.82,145.41 L142.97,145.45 L142.13,145.49 L141.28,145.53 L140.44,145.57 L139.59,145.61 L138.74,145.66 L137.90,145.70 L137.05,145.74 L136.21,145.78 L135.36,145.82 L134.51,145.86 L133.67,145.90 L132.82,145.94 L131.98,145.98 L131.13,146.02 L130.28,146.06 L129.44,146.10 L128.59,146.14 L127.75,146.19 L126.90,146.23 L126.05,146.27 L125.21,146.31 L124.36,146.35 L123.52,146.39 L122.67,146.43 L121.82,146.47 L120.98,146.51 L120.13,146.55 L119.29,146.59 L118.44,146.63 L117.59,146.67 L116.75,146.71 L115.90,146.75 L115.06,146.79 L114.21,146.83 L113.36,146.87 L112.52,146.91 L111.67,146.95 L110.83,146.99 L109.98,147.03 L109.13,147.08 L108.29,147.12 L107.44,147.16 L106.60,147.20 L105.75,147.24 L104.90,147.28 L104.06,147.32 L103.21,147.36 L102.37,147.40 L101.52,147.44 L100.67,147.48 L99.83,147.52 L98.98,147.56 L98.14,147.60 L97.29,147.64 L96.44,147.68 L95.60,147.72 L94.75,147.76 L93.91,147.80 L93.06,147.84 L92.22,147.87 L91.39,147.90 L90.57,147.92 L89.78,147.92 L89.03,147.89 L88.36,147.80 L87.78,147.64 L87.34,147.38 L87.06,147.01Z" stroke="#b02ab0"/>
<path d="M86.79,156.16 L86.90,155.39 L87.20,154.46 L87.67,153.40 L88.27,152.23 L88.98,151.00 L89.75,149.74 L90.55,148.47 L91.38,147.21 L92.22,145.96 L93.06,144.75 L93.91,143.55 L94.75,142.38 L95.60,141.24 L96.44,140.12 L97.29,139.03 L98.14,137.96 L98.98,136.92 L99.83,135.90 L100.67,134.90 L101.52,133.92 L102.37,132.96 L103.21,132.02 L104.06,131.11 L104.90,130.21 L105.75,129.34 L106.60,128.48 L107.44,127.64 L108.29,126.82 L109.13,126.02 L109.98,125.23 L110.83,124.46 L111.67,123.71 L112.52,122.97 L113.36,122.25 L114.21,121.55 L115.06,120.86 L115.90,120.18 L116.75,119.52 L117.59,118.87 L118.44,118.24 L119.29,117.62 L120.13,117.01 L120.98,116.42 L121.82,115.84 L122.67,115.27 L123.52,114.71 L124.36,114.16 L125.21,113.63 L126.05,113.10 L126.90,112.59 L127.75,112.09 L128.59,111.59 L129.44,111.11 L130.28,110.64 L131.13,110.18 L131.98,109.72 L132.82,109.28 L133.67,108.84 L134.51,108.42 L135.36,108.00 L136.21,107.59 L137.05,107.19 L137.90,106.79 L138.74,106.41 L139.59,106.03 L140.44,105.66 L141.28,105.29 L142.13,104.93 L142.97,104.58 L143.82,104.24 L144.67,103.90 L145.51,103.57 L146.36,103.25 L147.20,102.93 L148.05,102.62 L148.90,102.32 L149.74,102.01 L150.59,101.72 L151.43,101.43 L152.28,101.15 L153.13,100.87 L153.97,100.59 L154.82,100.33 L155.66,100.06 L156.51,99.80 L157.36,99.55 L158.20,99.30 L159.05,99.05 L159.89,98.81 L160.74,98.58 L161.59,98.34 L162.43,98.11 L163.28,97.89 L164.12,97.67 L164.97,97.45 L165.82,97.24 L166.66,97.03 L167.51,96.82 L168.35,96.62 L169.20,96.42 L170.05,96.22 L170.89,96.03 L171.74,95.84 L172.58,95.65 L173.43,95.46 L174.28,95.28 L175.12,95.10 L175.97,94.93 L176.81,94.75 L177.66,94.58 L178.51,94.42 L179.35,94.25 L180.20,94.09 L181.04,93.93 L181.89,93.77 L182.74,93.61 L183.58,93.46 L184.43,93.31 L185.27,93.16 L186.12,93.01 L186.97,92.86 L187.81,92.72 L188.66,92.58 L189.50,92.44 L190.35,92.30 L191.20,92.17 L192.04,92.03 L192.89,91.90 L193.73,91.77 L194.58,91.64 L195.43,91.51 L196.27,91.38 L197.12,91.26 L197.96,91.14 L198.81,91.02 L199.66,90.90 L200.50,90.78 L201.35,90.66 L202.19,90.54 L203.04,90.43 L203.89,90.32 L204.73,90.20 L205.58,90.09 L206.42,89.98 L207.27,89.87 L208.12,89.77 L208.96,89.66 L209.81,89.55 L210.65,89.45 L211.50,89.35 L212.35,89.24 L213.19,89.14 L214.04,89.04 L214.88,88.94 L215.73,88.85 L216.58,88.75 L217.42,88.65 L218.27,88.56 L219.11,88.46 L219.96,88.37 L220.81,88.27 L221.65,88.18 L222.50,88.09 L223.34,88.00 L224.19,87.91 L225.04,87.82 L225.88,87.73 L226.73,87.64 L227.57,87.55 L228.42,87.46 L229.27,87.38 L230.11,87.29 L230.96,87.21 L231.80,87.12 L232.65,87.04 L233.50,86.95 L234.34,86.87 L235.19,86.79 L236.03,86.71 L236.88,86.62 L237.73,86.54 L238.57,86.46 L239.42,86.38 L240.26,86.30 L241.11,86.22 L241.96,86.15 L242.80,86.07 L243.65,85.99 L244.49,85.91 L245.34,85.84 L246.19,85.76 L247.03,85.68 L247.88,85.61 L248.72,85.53 L249.57,85.46 L250.42,85.38 L251.26,85.31 L252.11,85.23 L252.95,85.16 L253.80,85.09 L254.65,85.01 L255.49,84.94 L256.34,84.87 L257.18,84.79 L258.03,84.72 L258.88,84.65 L259.72,84.58 L260.57,84.51 L261.41,84.44 L262.26,84.37 L263.11,84.30 L263.95,84.23 L264.80,84.16 L265.64,84.09 L266.49,84.02 L267.34,83.95 L268.18,83.88 L269.03,83.81 L269.87,83.74 L270.72,83.67 L271.57,83.60 L272.41,83.54 L273.26,83.47 L274.10,83.40 L274.95,83.33 L275.80,83.27 L276.64,83.20 L277.49,83.13 L278.33,83.06 L279.18,83.00 L280.03,82.93 L280.87,82.86 L281.72,82.80 L282.56,82.73 L283.41,82.67 L284.26,82.60 L285.10,82.53 L285.95,82.47 L286.79,82.40 L287.64,82.34 L288.48,82.28 L289.32,82.22 L290.15,82.18 L290.95,82.16 L291.72,82.19 L292.43,82.30 L293.03,82.53 L293.50,82.91 L293.80,83.50 L293.91,84.31 L293.80,85.36 L293.50,86.62 L293.03,88.05 L292.43,89.61 L291.72,91.24 L290.95,92.90 L290.15,94.55 L289.32,96.18 L288.48,97.77 L287.64,99.32 L286.79,100.82 L285.95,102.28 L285.10,103.69 L284.26,105.05 L283.41,106.38 L282.56,107.66 L281.72,108.90 L280.87,110.11 L280.03,111.28 L279.18,112.41 L278.33,113.50 L277.49,114.57 L276.64,115.60 L275.80,116.60 L274.95,117.56 L274.10,118.50 L273.26,119.41 L272.41,120.30 L271.57,121.15 L270.72,121.98 L269.87,122.79 L269.03,123.57 L268.18,124.32 L267.34,125.06 L266.49,125.77 L265.64,126.46 L264.80,127.13 L263.95,127.78 L263.11,128.42 L262.26,129.03 L261.41,129.63 L260.57,130.20 L259.72,130.76 L258.88,131.31 L258.03,131.84 L257.18,132.35 L256.34,132.85 L255.49,133.34 L254.65,133.81 L253.80,134.26 L252.95,134.71 L252.11,135.14 L251.26,135.56 L250.42,135.97 L249.57,136.37 L248.72,136.75 L247.88,137.13 L247.03,137.49 L246.19,137.85 L245.34,138.19 L244.49,138.53 L243.65,138.86 L242.80,139.18 L241.96,139.49 L241.11,139.79 L240.26,140.08 L239.42,140.37 L238.57,140.65 L237.73,140.92 L236.88,141.19 L236.03,141.45 L235.19,141.70 L234.34,141.94 L233.50,142.18 L232.65,142.42 L231.80,142.65 L230.96,142.87 L230.11,143.09 L229.27,143.30 L228.42,143.51 L227.57,143.71 L226.73,143.91 L225.88,144.10 L225.04,144.29 L224.19,144.48 L223.34,144.66 L222.50,144.83 L221.65,145.01 L220.81,145.18 L219.96,145.34 L219.11,145.51 L218.27,145.67 L217.42,145.82 L216.58,145.98 L215.73,146.13 L214.88,146.27 L214.04,146.42 L213.19,146.56 L212.35,146.70 L211.50,146.83 L210.65,146.97 L209.81,147.10 L208.96,147.23 L208.12,147.35 L207.27,147.48 L206.42,147.60 L205.58,147.72 L204.73,147.84 L203.89,147.96 L203.04,148.07 L202.19,148.19 L201.35,148.30 L200.50,148.41 L199.66,148.51 L198.81,148.62 L197.96,148.73 L197.12,148.83 L196.27,148.93 L195.43,149.03 L194.58,149.13 L193.73,149.23 L192.89,149.33 L192.04,149.42 L191.20,149.52 L190.35,149.61 L189.50,149.70 L188.66,149.79 L187.81,149.89 L186.97,149.97 L186.12,150.06 L185.27,150.15 L184.43,150.24 L183.58,150.32 L182.74,150.41 L181.89,150.49 L181.04,150.58 L180.20,150.66 L179.35,150.74 L178.51,150.82 L177.66,150.90 L176.81,150.98 L175.97,151.06 L175.12,151.14 L174.28,151.22 L173.43,151.29 L172.58,151.37 L171.74,151.45 L170.89,151.52 L170.05,151.60 L169.20,151.67 L168.35,151.75 L167.51,151.82 L166.66,151.89 L165.82,151.97 L164.97,152.04 L164.12,152.11 L163.28,152.18 L162.43,152.26 L161.59,152.33 L160.74,152.40 L159.89,152.47 L159.05,152.54 L158.20,152.61 L157.36,152.68 L156.51,152.75 L155.66,152.81 L154.82,152.88 L153.97,152.95 L153.13,153.02 L152.28,153.09 L151.43,153.15 L150.59,153.22 L149.74,153.29 L148.90,153.36 L148.05,153.42 L147.20,153.49 L146.36,153.55 L145.51,153.62 L144.67,153.69 L143.82,153.75 L142.97,153.82 L142.13,153.88 L141.28,153.95 L140.44,154.01 L139.59,154.08 L138.74,154.14 L137.90,154.21 L137.05,154.27 L136.21,154.33 L135.36,154.40 L134.51,154.46 L133.67,154.53 L132.82,154.59 L131.98,154.65 L131.13,154.72 L130.28,154.78 L129.44,154.84 L128.59,154.91 L127.75,154.97 L126.90,155.03 L126.05,155.10 L125.21,155.16 L124.36,155.22 L123.52,155.28 L122.67,155.35 L121.82,155.41 L120.98,155.47 L120.13,155.53 L119.29,155.60 L118.44,155.66 L117.59,155.72 L116.75,155.78 L115.90,155.84 L115.06,155.91 L114.21,155.97 L113.36,156.03 L112.52,156.09 L111.67,156.15 L110.83,156.22 L109.98,156.28 L109.13,156.34 L108.29,156.40 L107.44,156.46 L106.60,156.52 L105.75,156.58 L104.90,156.65 L104.06,156.71 L103.21,156.77 L102.37,156.83 L101.52,156.89 L100.67,156.95 L99.83,157.01 L98.98,157.07 L98.14,157.14 L97.29,157.20 L96.44,157.26 L95.60,157.32 L94.75,157.38 L93.91,157.44 L93.06,157.50 L92.22,157.56 L91.38,157.61 L90.55,157.66 L89.75,157.68 L88.98,157.67 L88.27,157.61 L87.67,157.45 L87.20,157.18 L86.90,156.76Z" stroke="#146414"/>
<path d="M86.46,169.87 L86.58,168.91 L86.93,167.70 L87.46,166.31 L88.13,164.78 L88.89,163.20 L89.70,161.59 L90.53,159.99 L91.37,158.40 L92.21,156.85 L93.06,155.33 L93.91,153.83 L94.75,152.37 L95.60,150.94 L96.44,149.54 L97.29,148.16 L98.14,146.82 L98.98,145.50 L99.83,144.21 L100.67,142.94 L101.52,141.70 L102.37,140.49 L103.21,139.30 L104.06,138.13 L104.90,136.99 L105.75,135.87 L106.60,134.77 L107.44,133.70 L108.29,132.64 L109.13,131.61 L109.98,130.60 L110.83,129.60 L111.67,128.63 L112.52,127.68 L113.36,126.74 L114.21,125.83 L115.06,124.93 L115.90,124.05 L116.75,123.18 L117.59,122.34 L118.44,121.51 L119.29,120.69 L120.13,119.89 L120.98,119.11 L121.82,118.34 L122.67,117.59 L123.52,116.85 L124.36,116.12 L125.21,115.41 L126.05,114.71 L126.90,114.03 L127.75,113.35 L128.59,112.69 L129.44,112.05 L130.28,111.41 L131.13,110.79 L131.98,110.18 L132.82,109.58 L133.67,108.99 L134.51,108.41 L135.36,107.84 L136.21,107.28 L137.05,106.73 L137.90,106.20 L138.74,105.67 L139.59,105.15 L140.44,104.64 L141.28,104.14 L142.13,103.65 L142.97,103.16 L143.82,102.69 L144.67,102.22 L145.51,101.76 L146.36,101.31 L147.20,100.87 L148.05,100.43 L148.90,100.01 L149.74,99.58 L150.59,99.17 L151.43,98.76 L152.28,98.36 L153.13,97.97 L153.97,97.58 L154.82,97.20 L155.66,96.83 L156.51,96.46 L157.36,96.10 L158.20,95.74 L159.05,95.39 L159.89,95.04 L160.74,94.70 L161.59,94.37 L162.43,94.04 L163.28,93.71 L164.12,93.39 L164.97,93.08 L165.82,92.77 L166.66,92.46 L167.51,92.16 L168.35,91.87 L169.20,91.57 L170.05,91.29 L170.89,91.00 L171.74,90.72 L172.58,90.45 L173.43,90.17 L174.28,89.91 L175.12,89.64 L175.97,89.38 L176.81,89.12 L177.66,88.87 L178.51,88.62 L179.35,88.37 L180.20,88.13 L181.04,87.89 L181.89,87.65 L182.74,87.42 L183.58,87.18 L184.43,86.96 L185.27,86.73 L186.12,86.51 L186.97,86.29 L187.81,86.07 L188.66,85.85 L189.50,85.64 L190.35,85.43 L191.20,85.22 L192.04,85.02 L192.89,84.82 L193.73,84.61 L194.58,84.42 L195.43,84.22 L196.27,84.03 L197.12,83.83 L197.96,83.64 L198.81,83.46 L199.66,83.27 L200.50,83.09 L201.35,82.90 L202.19,82.72 L203.04,82.54 L203.89,82.37 L204.73,82.19 L205.58,82.02 L206.42,81.85 L207.27,81.68 L208.12,81.51 L208.96,81.34 L209.81,81.17 L210.65,81.01 L211.50,80.85 L212.35,80.68 L213.19,80.52 L214.04,80.37 L214.88,80.21 L215.73,80.05 L216.58,79.90 L217.42,79.74 L218.27,79.59 L219.11,79.44 L219.96,79.29 L220.81,79.14 L221.65,78.99 L222.50,78.84 L223.34,78.70 L224.19,78.55 L225.04,78.41 L225.88,78.27 L226.73,78.12 L227.57,77.98 L228.42,77.84 L229.27,77.70 L230.11,77.56 L230.96,77.43 L231.80,77.29 L232.65,77.15 L233.50,77.02 L234.34,76.89 L235.19,76.75 L236.03,76.62 L236.88,76.49 L237.73,76.36 L238.57,76.22 L239.42,76.09 L240.26,75.97 L241.11,75.84 L241.96,75.71 L242.80,75.58 L243.65,75.45 L244.49,75.33 L245.34,75.20 L246.19,75.08 L247.03,74.95 L247.88,74.83 L248.72,74.71 L249.57,74.58 L250.42,74.46 L251.26,74.34 L252.11,74.22 L252.95,74.10 L253.80,73.98 L254.65,73.86 L255.49,73.74 L256.34,73.62 L257.18,73.50 L258.03,73.38 L258.88,73.26 L259.72,73.15 L260.57,73.03 L261.41,72.91 L262.26,72.80 L263.11,72.68 L263.95,72.57 L264.80,72.45 L265.64,72.34 L266.49,72.22 L267.34,72.11 L268.18,71.99 L269.03,71.88 L269.87,71.77 L270.72,71.65 L271.57,71.54 L272.41,71.43 L273.26,71.32 L274.10,71.20 L274.95,71.09 L275.80,70.98 L276.64,70.87 L277.49,70.76 L278.33,70.65 L279.18,70.54 L280.03,70.43 L280.87,70.32 L281.72,70.21 L282.56,70.10 L283.41,69.99 L284.26,69.88 L285.10,69.77 L285.95,69.67 L286.79,69.56 L287.64,69.45 L288.49,69.34 L289.33,69.24 L290.17,69.14 L291.00,69.05 L291.81,69.00 L292.57,69.02 L293.24,69.16 L293.77,69.49 L294.12,70.07 L294.24,70.97 L294.12,72.19 L293.77,73.71 L293.24,75.45 L292.57,77.34 L291.81,79.31 L291.00,81.29 L290.17,83.25 L289.33,85.17 L288.49,87.05 L287.64,88.88 L286.79,90.66 L285.95,92.39 L285.10,94.08 L284.26,95.72 L283.41,97.32 L282.56,98.87 L281.72,100.39 L280.87,101.86 L280.03,103.29 L279.18,104.69 L278.33,106.05 L277.49,107.37 L276.64,108.66 L275.80,109.92 L274.95,111.14 L274.10,112.33 L273.26,113.49 L272.41,114.62 L271.57,115.72 L270.72,116.79 L269.87,117.84 L269.03,118.86 L268.18,119.85 L267.34,120.82 L266.49,121.76 L265.64,122.68 L264.80,123.57 L263.95,124.44 L263.11,125.29 L262.26,126.12 L261.41,126.93 L260.57,127.72 L259.72,128.49 L258.88,129.24 L258.03,129.97 L257.18,130.68 L256.34,131.38 L255.49,132.06 L254.65,132.72 L253.80,133.36 L252.95,134.00 L252.11,134.61 L251.26,135.21 L250.42,135.80 L249.57,136.37 L248.72,136.93 L247.88,137.48 L247.03,138.01 L246.19,138.54 L245.34,139.05 L244.49,139.54 L243.65,140.03 L242.80,140.51 L241.96,140.97 L241.11,141.43 L240.26,141.87 L239.42,142.31 L238.57,142.73 L237.73,143.15 L236.88,143.55 L236.03,143.95 L235.19,144.34 L234.34,144.73 L233.50,145.10 L232.65,145.46 L231.80,145.82 L230.96,146.17 L230.11,146.52 L229.27,146.85 L228.42,147.19 L227.57,147.51 L226.73,147.83 L225.88,148.14 L225.04,148.44 L224.19,148.74 L223.34,149.04 L222.50,149.32 L221.65,149.61 L220.81,149.88 L219.96,150.16 L219.11,150.42 L218.27,150.69 L217.42,150.95 L216.58,151.20 L215.73,151.45 L214.88,151.69 L214.04,151.93 L213.19,152.17 L212.35,152.40 L211.50,152.63 L210.65,152.86 L209.81,153.08 L208.96,153.30 L208.12,153.51 L207.27,153.73 L206.42,153.94 L205.58,154.14 L204.73,154.34 L203.89,154.54 L203.04,154.74 L202.19,154.93 L201.35,155.13 L200.50,155.31 L199.66,155.50 L198.81,155.68 L197.96,155.87 L197.12,156.04 L196.27,156.22 L195.43,156.40 L194.58,156.57 L193.73,156.74 L192.89,156.91 L192.04,157.07 L191.20,157.24 L190.35,157.40 L189.50,157.56 L188.66,157.72 L187.81,157.88 L186.97,158.03 L186.12,158.19 L185.27,158.34 L184.43,158.49 L183.58,158.64 L182.74,158.79 L181.89,158.94 L181.04,159.08 L180.20,159.23 L179.35,159.37 L178.51,159.51 L177.66,159.65 L176.81,159.79 L175.97,159.93 L175.12,160.07 L174.28,160.20 L173.43,160.34 L172.58,160.47 L171.74,160.61 L170.89,160.74 L170.05,160.87 L169.20,161.00 L168.35,161.13 L167.51,161.26 L166.66,161.39 L165.82,161.51 L164.97,161.64 L164.12,161.76 L163.28,161.89 L162.43,162.01 L161.59,162.14 L160.74,162.26 L159.89,162.38 L159.05,162.50 L158.20,162.62 L157.36,162.74 L156.51,162.86 L155.66,162.98 L154.82,163.10 L153.97,163.22 L153.13,163.33 L152.28,163.45 L151.43,163.57 L150.59,163.68 L149.74,163.80 L148.90,163.91 L148.05,164.03 L147.20,164.14 L146.36,164.26 L145.51,164.37 L144.67,164.48 L143.82,164.59 L142.97,164.71 L142.13,164.82 L141.28,164.93 L140.44,165.04 L139.59,165.15 L138.74,165.26 L137.90,165.37 L137.05,165.48 L136.21,165.59 L135.36,165.70 L134.51,165.81 L133.67,165.92 L132.82,166.03 L131.98,166.13 L131.13,166.24 L130.28,166.35 L129.44,166.46 L128.59,166.56 L127.75,166.67 L126.90,166.78 L126.05,166.89 L125.21,166.99 L124.36,167.10 L123.52,167.20 L122.67,167.31 L121.82,167.42 L120.98,167.52 L120.13,167.63 L119.29,167.73 L118.44,167.84 L117.59,167.94 L116.75,168.05 L115.90,168.15 L115.06,168.25 L114.21,168.36 L113.36,168.46 L112.52,168.57 L111.67,168.67 L110.83,168.77 L109.98,168.88 L109.13,168.98 L108.29,169.09 L107.44,169.19 L106.60,169.29 L105.75,169.39 L104.90,169.50 L104.06,169.60 L103.21,169.70 L102.37,169.81 L101.52,169.91 L100.67,170.01 L99.83,170.11 L98.98,170.22 L98.14,170.32 L97.29,170.42 L96.44,170.52 L95.60,170.62 L94.75,170.73 L93.91,170.83 L93.06,170.93 L92.21,171.03 L91.37,171.13 L90.53,171.23 L89.70,171.31 L88.89,171.37 L88.13,171.37 L87.46,171.27 L86.93,171.03 L86.58,170.57Z" stroke="#0c0c50"/>
<path d="M86.12,181.79 L86.27,180.39 L86.68,178.58 L87.30,176.50 L88.04,174.27 L88.85,171.99 L89.68,169.73 L90.52,167.50 L91.37,165.33 L92.21,163.21 L93.06,161.15 L93.91,159.14 L94.75,157.18 L95.60,155.27 L96.44,153.40 L97.29,151.58 L98.14,149.81 L98.98,148.08 L99.83,146.40 L100.67,144.75 L101.52,143.15 L102.37,141.59 L103.21,140.06 L104.06,138.57 L104.90,137.12 L105.75,135.70 L106.60,134.32 L107.44,132.97 L108.29,131.65 L109.13,130.37 L109.98,129.11 L110.83,127.89 L111.67,126.70 L112.52,125.53 L113.36,124.39 L114.21,123.28 L115.06,122.19 L115.90,121.13 L116.75,120.09 L117.59,119.08 L118.44,118.09 L119.29,117.12 L120.13,116.18 L120.98,115.26 L121.82,114.35 L122.67,113.47 L123.52,112.61 L124.36,111.77 L125.21,110.94 L126.05,110.14 L126.90,109.35 L127.75,108.58 L128.59,107.83 L129.44,107.09 L130.28,106.37 L131.13,105.66 L131.98,104.97 L132.82,104.29 L133.67,103.63 L134.51,102.98 L135.36,102.35 L136.21,101.72 L137.05,101.11 L137.90,100.52 L138.74,99.93 L139.59,99.36 L140.44,98.80 L141.28,98.25 L142.13,97.71 L142.97,97.18 L143.82,96.66 L144.67,96.15 L145.51,95.65 L146.36,95.16 L147.20,94.68 L148.05,94.20 L148.90,93.74 L149.74,93.28 L150.59,92.84 L151.43,92.40 L152.28,91.97 L153.13,91.54 L153.97,91.13 L154.82,90.72 L155.66,90.31 L156.51,89.92 L157.36,89.53 L158.20,89.15 L159.05,88.77 L159.89,88.40 L160.74,88.03 L161.59,87.67 L162.43,87.32 L163.28,86.97 L164.12,86.63 L164.97,86.29 L165.82,85.96 L166.66,85.63 L167.51,85.31 L168.35,84.99 L169.20,84.68 L170.05,84.37 L170.89,84.06 L171.74,83.76 L172.58,83.46 L173.43,83.17 L174.28,82.88 L175.12,82.59 L175.97,82.31 L176.81,82.03 L177.66,81.76 L178.51,81.48 L179.35,81.21 L180.20,80.95 L181.04,80.69 L181.89,80.43 L182.74,80.17 L183.58,79.91 L184.43,79.66 L185.27,79.41 L186.12,79.17 L186.97,78.92 L187.81,78.68 L188.66,78.44 L189.50,78.20 L190.35,77.97 L191.20,77.74 L192.04,77.51 L192.89,77.28 L193.73,77.05 L194.58,76.83 L195.43,76.61 L196.27,76.39 L197.12,76.17 L197.96,75.95 L198.81,75.73 L199.66,75.52 L200.50,75.31 L201.35,75.10 L202.19,74.89 L203.04,74.68 L203.89,74.47 L204.73,74.27 L205.58,74.07 L206.42,73.86 L207.27,73.66 L208.12,73.46 L208.96,73.27 L209.81,73.07 L210.65,72.87 L211.50,72.68 L212.35,72.48 L213.19,72.29 L214.04,72.10 L214.88,71.91 L215.73,71.72 L216.58,71.53 L217.42,71.34 L218.27,71.16 L219.11,70.97 L219.96,70.79 L220.81,70.60 L221.65,70.42 L222.50,70.24 L223.34,70.05 L224.19,69.87 L225.04,69.69 L225.88,69.51 L226.73,69.33 L227.57,69.15 L228.42,68.98 L229.27,68.80 L230.11,68.62 L230.96,68.45 L231.80,68.27 L232.65,68.10 L233.50,67.92 L234.34,67.75 L235.19,67.58 L236.03,67.40 L236.88,67.23 L237.73,67.06 L238.57,66.89 L239.42,66.72 L240.26,66.55 L241.11,66.38 L241.96,66.21 L242.80,66.04 L243.65,65.87 L244.49,65.70 L245.34,65.53 L246.19,65.37 L247.03,65.20 L247.88,65.03 L248.72,64.87 L249.57,64.70 L250.42,64.53 L251.26,64.37 L252.11,64.20 L252.95,64.04 L253.80,63.87 L254.65,63.71 L255.49,63.54 L256.34,63.38 L257.18,63.22 L258.03,63.05 L258.88,62.89 L259.72,62.73 L260.57,62.56 L261.41,62.40 L262.26,62.24 L263.11,62.08 L263.95,61.91 L264.80,61.75 L265.64,61.59 L266.49,61.43 L267.34,61.27 L268.18,61.11 L269.03,60.95 L269.87,60.79 L270.72,60.63 L271.57,60.47 L272.41,60.31 L273.26,60.15 L274.10,59.99 L274.95,59.83 L275.80,59.67 L276.64,59.51 L277.49,59.35 L278.33,59.19 L279.18,59.03 L280.03,58.87 L280.87,58.71 L281.72,58.55 L282.56,58.39 L283.41,58.24 L284.26,58.08 L285.10,57.92 L285.95,57.76 L286.79,57.60 L287.64,57.44 L288.49,57.29 L289.33,57.13 L290.18,56.97 L291.02,56.82 L291.85,56.68 L292.66,56.59 L293.40,56.60 L294.02,56.81 L294.43,57.34 L294.58,58.29 L294.43,59.69 L294.02,61.49 L293.40,63.57 L292.66,65.81 L291.85,68.09 L291.02,70.35 L290.18,72.57 L289.33,74.74 L288.49,76.86 L287.64,78.92 L286.79,80.94 L285.95,82.90 L285.10,84.81 L284.26,86.67 L283.41,88.49 L282.56,90.26 L281.72,91.99 L280.87,93.68 L280.03,95.32 L279.18,96.93 L278.33,98.49 L277.49,100.02 L276.64,101.51 L275.80,102.96 L274.95,104.37 L274.10,105.76 L273.26,107.11 L272.41,108.42 L271.57,109.71 L270.72,110.96 L269.87,112.19 L269.03,113.38 L268.18,114.55 L267.34,115.69 L266.49,116.80 L265.64,117.89 L264.80,118.95 L263.95,119.98 L263.11,121.00 L262.26,121.99 L261.41,122.95 L260.57,123.90 L259.72,124.82 L258.88,125.72 L258.03,126.60 L257.18,127.46 L256.34,128.31 L255.49,129.13 L254.65,129.94 L253.80,130.72 L252.95,131.50 L252.11,132.25 L251.26,132.99 L250.42,133.71 L249.57,134.42 L248.72,135.11 L247.88,135.78 L247.03,136.45 L246.19,137.09 L245.34,137.73 L244.49,138.35 L243.65,138.96 L242.80,139.56 L241.96,140.14 L241.11,140.72 L240.26,141.28 L239.42,141.83 L238.57,142.37 L237.73,142.90 L236.88,143.42 L236.03,143.93 L235.19,144.43 L234.34,144.92 L233.50,145.40 L232.65,145.87 L231.80,146.34 L230.96,146.79 L230.11,147.24 L229.27,147.68 L228.42,148.11 L227.57,148.53 L226.73,148.95 L225.88,149.36 L225.04,149.76 L224.19,150.16 L223.34,150.55 L222.50,150.93 L221.65,151.31 L220.81,151.68 L219.96,152.04 L219.11,152.40 L218.27,152.75 L217.42,153.10 L216.58,153.45 L215.73,153.78 L214.88,154.12 L214.04,154.44 L213.19,154.77 L212.35,155.09 L211.50,155.40 L210.65,155.71 L209.81,156.01 L208.96,156.32 L208.12,156.61 L207.27,156.91 L206.42,157.20 L205.58,157.48 L204.73,157.77 L203.89,158.04 L203.04,158.32 L202.19,158.59 L201.35,158.86 L200.50,159.13 L199.66,159.39 L198.81,159.65 L197.96,159.91 L197.12,160.16 L196.27,160.41 L195.43,160.66 L194.58,160.91 L193.73,161.15 L192.89,161.40 L192.04,161.63 L191.20,161.87 L190.35,162.11 L189.50,162.34 L188.66,162.57 L187.81,162.80 L186.97,163.02 L186.12,163.25 L185.27,163.47 L184.43,163.69 L183.58,163.91 L182.74,164.13 L181.89,164.34 L181.04,164.56 L180.20,164.77 L179.35,164.98 L178.51,165.19 L177.66,165.39 L176.81,165.60 L175.97,165.81 L175.12,166.01 L174.28,166.21 L173.43,166.41 L172.58,166.61 L171.74,166.81 L170.89,167.01 L170.05,167.20 L169.20,167.40 L168.35,167.59 L167.51,167.78 L166.66,167.98 L165.82,168.17 L164.97,168.36 L164.12,168.54 L163.28,168.73 L162.43,168.92 L161.59,169.10 L160.74,169.29 L159.89,169.47 L159.05,169.66 L158.20,169.84 L157.36,170.02 L156.51,170.20 L155.66,170.38 L154.82,170.56 L153.97,170.74 L153.13,170.92 L152.28,171.10 L151.43,171.28 L150.59,171.45 L149.74,171.63 L148.90,171.80 L148.05,171.98 L147.20,172.15 L146.36,172.33 L145.51,172.50 L144.67,172.67 L143.82,172.84 L142.97,173.02 L142.13,173.19 L141.28,173.36 L140.44,173.53 L139.59,173.70 L138.74,173.87 L137.90,174.04 L137.05,174.21 L136.21,174.37 L135.36,174.54 L134.51,174.71 L133.67,174.88 L132.82,175.04 L131.98,175.21 L131.13,175.38 L130.28,175.54 L129.44,175.71 L128.59,175.87 L127.75,176.04 L126.90,176.20 L126.05,176.37 L125.21,176.53 L124.36,176.70 L123.52,176.86 L122.67,177.02 L121.82,177.19 L120.98,177.35 L120.13,177.51 L119.29,177.68 L118.44,177.84 L117.59,178.00 L116.75,178.16 L115.90,178.32 L115.06,178.48 L114.21,178.65 L113.36,178.81 L112.52,178.97 L111.67,179.13 L110.83,179.29 L109.98,179.45 L109.13,179.61 L108.29,179.77 L107.44,179.93 L106.60,180.09 L105.75,180.25 L104.90,180.41 L104.06,180.57 L103.21,180.73 L102.37,180.89 L101.52,181.05 L100.67,181.21 L99.83,181.36 L98.98,181.52 L98.14,181.68 L97.29,181.84 L96.44,182.00 L95.60,182.16 L94.75,182.32 L93.91,182.47 L93.06,182.63 L92.21,182.79 L91.37,182.95 L90.52,183.10 L89.68,183.26 L88.85,183.39 L88.04,183.49 L87.30,183.48 L86.68,183.27 L86.27,182.74Z" stroke="#6c18bc"/>
<path d="M85.78,190.55 L85.97,189.06 L86.48,187.07 L87.19,184.79 L88.00,182.41 L88.83,180.04 L89.68,177.70 L90.52,175.42 L91.37,173.18 L92.21,171.00 L93.06,168.87 L93.91,166.79 L94.75,164.75 L95.60,162.76 L96.44,160.81 L97.29,158.91 L98.14,157.05 L98.98,155.24 L99.83,153.46 L100.67,151.72 L101.52,150.02 L102.37,148.36 L103.21,146.74 L104.06,145.15 L104.90,143.60 L105.75,142.08 L106.60,140.59 L107.44,139.14 L108.29,137.71 L109.13,136.32 L109.98,134.96 L110.83,133.63 L111.67,132.32 L112.52,131.05 L113.36,129.80 L114.21,128.58 L115.06,127.38 L115.90,126.21 L116.75,125.06 L117.59,123.94 L118.44,122.84 L119.29,121.76 L120.13,120.71 L120.98,119.67 L121.82,118.66 L122.67,117.67 L123.52,116.70 L124.36,115.75 L125.21,114.81 L126.05,113.90 L126.90,113.00 L127.75,112.12 L128.59,111.26 L129.44,110.42 L130.28,109.59 L131.13,108.78 L131.98,107.98 L132.82,107.20 L133.67,106.44 L134.51,105.68 L135.36,104.95 L136.21,104.22 L137.05,103.51 L137.90,102.81 L138.74,102.13 L139.59,101.46 L140.44,100.80 L141.28,100.15 L142.13,99.51 L142.97,98.89 L143.82,98.27 L144.67,97.67 L145.51,97.08 L146.36,96.49 L147.20,95.92 L148.05,95.36 L148.90,94.80 L149.74,94.26 L150.59,93.72 L151.43,93.19 L152.28,92.68 L153.13,92.16 L153.97,91.66 L154.82,91.17 L155.66,90.68 L156.51,90.20 L157.36,89.73 L158.20,89.27 L159.05,88.81 L159.89,88.36 L160.74,87.91 L161.59,87.48 L162.43,87.04 L163.28,86.62 L164.12,86.20 L164.97,85.79 L165.82,85.38 L166.66,84.98 L167.51,84.58 L168.35,84.19 L169.20,83.80 L170.05,83.42 L170.89,83.04 L171.74,82.67 L172.58,82.31 L173.43,81.94 L174.28,81.58 L175.12,81.23 L175.97,80.88 L176.81,80.54 L177.66,80.19 L178.51,79.86 L179.35,79.52 L180.20,79.19 L181.04,78.87 L181.89,78.55 L182.74,78.23 L183.58,77.91 L184.43,77.60 L185.27,77.29 L186.12,76.98 L186.97,76.68 L187.81,76.38 L188.66,76.08 L189.50,75.79 L190.35,75.49 L191.20,75.21 L192.04,74.92 L192.89,74.63 L193.73,74.35 L194.58,74.07 L195.43,73.80 L196.27,73.52 L197.12,73.25 L197.96,72.98 L198.81,72.71 L199.66,72.45 L200.50,72.18 L201.35,71.92 L202.19,71.66 L203.04,71.40 L203.89,71.15 L204.73,70.89 L205.58,70.64 L206.42,70.39 L207.27,70.14 L208.12,69.89 L208.96,69.65 L209.81,69.40 L210.65,69.16 L211.50,68.92 L212.35,68.68 L213.19,68.44 L214.04,68.20 L214.88,67.97 L215.73,67.73 L216.58,67.50 L217.42,67.27 L218.27,67.04 L219.11,66.81 L219.96,66.58 L220.81,66.35 L221.65,66.12 L222.50,65.90 L223.34,65.67 L224.19,65.45 L225.04,65.23 L225.88,65.01 L226.73,64.79 L227.57,64.57 L228.42,64.35 L229.27,64.13 L230.11,63.91 L230.96,63.70 L231.80,63.48 L232.65,63.27 L233.50,63.05 L234.34,62.84 L235.19,62.63 L236.03,62.42 L236.88,62.21 L237.73,62.00 L238.57,61.79 L239.42,61.58 L240.26,61.37 L241.11,61.16 L241.96,60.95 L242.80,60.75 L243.65,60.54 L244.49,60.34 L245.34,60.13 L246.19,59.93 L247.03,59.72 L247.88,59.52 L248.72,59.32 L249.57,59.11 L250.42,58.91 L251.26,58.71 L252.11,58.51 L252.95,58.31 L253.80,58.11 L254.65,57.91 L255.49,57.71 L256.34,57.51 L257.18,57.31 L258.03,57.11 L258.88,56.92 L259.72,56.72 L260.57,56.52 L261.41,56.32 L262.26,56.13 L263.11,55.93 L263.95,55.73 L264.80,55.54 L265.64,55.34 L266.49,55.15 L267.34,54.95 L268.18,54.76 L269.03,54.56 L269.87,54.37 L270.72,54.18 L271.57,53.98 L272.41,53.79 L273.26,53.60 L274.10,53.40 L274.95,53.21 L275.80,53.02 L276.64,52.83 L277.49,52.63 L278.33,52.44 L279.18,52.25 L280.03,52.06 L280.87,51.87 L281.72,51.68 L282.56,51.49 L283.41,51.30 L284.26,51.11 L285.10,50.92 L285.95,50.73 L286.79,50.54 L287.64,50.35 L288.49,50.16 L289.33,49.97 L290.18,49.78 L291.02,49.59 L291.87,49.40 L292.70,49.23 L293.51,49.11 L294.22,49.14 L294.73,49.50 L294.92,50.39 L294.73,51.88 L294.22,53.87 L293.51,56.15 L292.70,58.53 L291.87,60.90 L291.02,63.24 L290.18,65.52 L289.33,67.76 L288.49,69.94 L287.64,72.07 L286.79,74.15 L285.95,76.19 L285.10,78.18 L284.26,80.13 L283.41,82.03 L282.56,83.89 L281.72,85.70 L280.87,87.48 L280.03,89.22 L279.18,90.92 L278.33,92.58 L277.49,94.20 L276.64,95.79 L275.80,97.34 L274.95,98.86 L274.10,100.35 L273.26,101.80 L272.41,103.23 L271.57,104.62 L270.72,105.98 L269.87,107.31 L269.03,108.62 L268.18,109.89 L267.34,111.14 L266.49,112.36 L265.64,113.56 L264.80,114.73 L263.95,115.88 L263.11,117.00 L262.26,118.10 L261.41,119.18 L260.57,120.23 L259.72,121.27 L258.88,122.28 L258.03,123.27 L257.18,124.24 L256.34,125.19 L255.49,126.13 L254.65,127.04 L253.80,127.94 L252.95,128.82 L252.11,129.68 L251.26,130.52 L250.42,131.35 L249.57,132.16 L248.72,132.96 L247.88,133.74 L247.03,134.50 L246.19,135.26 L245.34,135.99 L244.49,136.72 L243.65,137.43 L242.80,138.13 L241.96,138.81 L241.11,139.48 L240.26,140.14 L239.42,140.79 L238.57,141.43 L237.73,142.05 L236.88,142.67 L236.03,143.27 L235.19,143.86 L234.34,144.45 L233.50,145.02 L232.65,145.58 L231.80,146.14 L230.96,146.68 L230.11,147.22 L229.27,147.75 L228.42,148.26 L227.57,148.78 L226.73,149.28 L225.88,149.77 L225.04,150.26 L224.19,150.74 L223.34,151.21 L222.50,151.67 L221.65,152.13 L220.81,152.58 L219.96,153.03 L219.11,153.46 L218.27,153.90 L217.42,154.32 L216.58,154.74 L215.73,155.15 L214.88,155.56 L214.04,155.96 L213.19,156.36 L212.35,156.75 L211.50,157.14 L210.65,157.52 L209.81,157.90 L208.96,158.27 L208.12,158.63 L207.27,159.00 L206.42,159.36 L205.58,159.71 L204.73,160.06 L203.89,160.40 L203.04,160.75 L202.19,161.08 L201.35,161.42 L200.50,161.75 L199.66,162.07 L198.81,162.39 L197.96,162.71 L197.12,163.03 L196.27,163.34 L195.43,163.65 L194.58,163.96 L193.73,164.26 L192.89,164.56 L192.04,164.86 L191.20,165.15 L190.35,165.45 L189.50,165.73 L188.66,166.02 L187.81,166.31 L186.97,166.59 L186.12,166.87 L185.27,167.14 L184.43,167.42 L183.58,167.69 L182.74,167.96 L181.89,168.23 L181.04,168.49 L180.20,168.76 L179.35,169.02 L178.51,169.28 L177.66,169.54 L176.81,169.79 L175.97,170.05 L175.12,170.30 L174.28,170.55 L173.43,170.80 L172.58,171.05 L171.74,171.29 L170.89,171.54 L170.05,171.78 L169.20,172.02 L168.35,172.26 L167.51,172.50 L166.66,172.74 L165.82,172.97 L164.97,173.21 L164.12,173.44 L163.28,173.67 L162.43,173.90 L161.59,174.13 L160.74,174.36 L159.89,174.59 L159.05,174.82 L158.20,175.04 L157.36,175.27 L156.51,175.49 L155.66,175.71 L154.82,175.93 L153.97,176.15 L153.13,176.37 L152.28,176.59 L151.43,176.81 L150.59,177.03 L149.74,177.24 L148.90,177.46 L148.05,177.67 L147.20,177.89 L146.36,178.10 L145.51,178.31 L144.67,178.52 L143.82,178.73 L142.97,178.94 L142.13,179.15 L141.28,179.36 L140.44,179.57 L139.59,179.78 L138.74,179.99 L137.90,180.19 L137.05,180.40 L136.21,180.60 L135.36,180.81 L134.51,181.01 L133.67,181.22 L132.82,181.42 L131.98,181.62 L131.13,181.83 L130.28,182.03 L129.44,182.23 L128.59,182.43 L127.75,182.63 L126.90,182.83 L126.05,183.03 L125.21,183.23 L124.36,183.43 L123.52,183.63 L122.67,183.83 L121.82,184.02 L120.98,184.22 L120.13,184.42 L119.29,184.62 L118.44,184.81 L117.59,185.01 L116.75,185.21 L115.90,185.40 L115.06,185.60 L114.21,185.79 L113.36,185.99 L112.52,186.18 L111.67,186.38 L110.83,186.57 L109.98,186.76 L109.13,186.96 L108.29,187.15 L107.44,187.34 L106.60,187.54 L105.75,187.73 L104.90,187.92 L104.06,188.11 L103.21,188.31 L102.37,188.50 L101.52,188.69 L100.67,188.88 L99.83,189.07 L98.98,189.26 L98.14,189.45 L97.29,189.64 L96.44,189.83 L95.60,190.02 L94.75,190.21 L93.91,190.40 L93.06,190.59 L92.21,190.78 L91.37,190.97 L90.52,191.16 L89.68,191.35 L88.83,191.54 L88.00,191.71 L87.19,191.83 L86.48,191.80 L85.97,191.44Z" stroke="#760c7c"/>
<path d="M85.44,198.50 L85.70,196.93 L86.34,194.75 L87.14,192.35 L87.98,189.93 L88.83,187.56 L89.68,185.24 L90.52,182.96 L91.37,180.73 L92.21,178.55 L93.06,176.41 L93.91,174.31 L94.75,172.26 L95.60,170.25 L96.44,168.27 L97.29,166.34 L98.14,164.45 L98.98,162.60 L99.83,160.78 L100.67,159.00 L101.52,157.25 L102.37,155.54 L103.21,153.86 L104.06,152.22 L104.90,150.60 L105.75,149.02 L106.60,147.47 L107.44,145.96 L108.29,144.47 L109.13,143.00 L109.98,141.57 L110.83,140.17 L111.67,138.79 L112.52,137.43 L113.36,136.11 L114.21,134.81 L115.06,133.53 L115.90,132.28 L116.75,131.05 L117.59,129.84 L118.44,128.65 L119.29,127.49 L120.13,126.35 L120.98,125.23 L121.82,124.13 L122.67,123.05 L123.52,121.99 L124.36,120.95 L125.21,119.93 L126.05,118.92 L126.90,117.93 L127.75,116.97 L128.59,116.01 L129.44,115.08 L130.28,114.16 L131.13,113.25 L131.98,112.36 L132.82,111.49 L133.67,110.63 L134.51,109.79 L135.36,108.96 L136.21,108.14 L137.05,107.34 L137.90,106.55 L138.74,105.77 L139.59,105.01 L140.44,104.26 L141.28,103.52 L142.13,102.79 L142.97,102.07 L143.82,101.37 L144.67,100.68 L145.51,99.99 L146.36,99.32 L147.20,98.66 L148.05,98.00 L148.90,97.36 L149.74,96.73 L150.59,96.10 L151.43,95.49 L152.28,94.88 L153.13,94.29 L153.97,93.70 L154.82,93.12 L155.66,92.54 L156.51,91.98 L157.36,91.42 L158.20,90.87 L159.05,90.33 L159.89,89.80 L160.74,89.27 L161.59,88.75 L162.43,88.24 L163.28,87.73 L164.12,87.23 L164.97,86.73 L165.82,86.25 L166.66,85.76 L167.51,85.29 L168.35,84.82 L169.20,84.35 L170.05,83.89 L170.89,83.44 L171.74,82.99 L172.58,82.55 L173.43,82.11 L174.28,81.68 L175.12,81.25 L175.97,80.82 L176.81,80.41 L177.66,79.99 L178.51,79.58 L179.35,79.17 L180.20,78.77 L181.04,78.37 L181.89,77.98 L182.74,77.59 L183.58,77.20 L184.43,76.82 L185.27,76.44 L186.12,76.07 L186.97,75.69 L187.81,75.33 L188.66,74.96 L189.50,74.60 L190.35,74.24 L191.20,73.88 L192.04,73.53 L192.89,73.18 L193.73,72.83 L194.58,72.49 L195.43,72.15 L196.27,71.81 L197.12,71.48 L197.96,71.14 L198.81,70.81 L199.66,70.48 L200.50,70.16 L201.35,69.83 L202.19,69.51 L203.04,69.19 L203.89,68.88 L204.73,68.56 L205.58,68.25 L206.42,67.94 L207.27,67.63 L208.12,67.32 L208.96,67.02 L209.81,66.72 L210.65,66.41 L211.50,66.12 L212.35,65.82 L213.19,65.52 L214.04,65.23 L214.88,64.94 L215.73,64.64 L216.58,64.36 L217.42,64.07 L218.27,63.78 L219.11,63.50 L219.96,63.21 L220.81,62.93 L221.65,62.65 L222.50,62.37 L223.34,62.09 L224.19,61.82 L225.04,61.54 L225.88,61.27 L226.73,60.99 L227.57,60.72 L228.42,60.45 L229.27,60.18 L230.11,59.91 L230.96,59.64 L231.80,59.38 L232.65,59.11 L233.50,58.85 L234.34,58.58 L235.19,58.32 L236.03,58.06 L236.88,57.80 L237.73,57.54 L238.57,57.28 L239.42,57.02 L240.26,56.76 L241.11,56.50 L241.96,56.25 L242.80,55.99 L243.65,55.74 L244.49,55.49 L245.34,55.23 L246.19,54.98 L247.03,54.73 L247.88,54.48 L248.72,54.23 L249.57,53.98 L250.42,53.73 L251.26,53.48 L252.11,53.23 L252.95,52.98 L253.80,52.74 L254.65,52.49 L255.49,52.25 L256.34,52.00 L257.18,51.76 L258.03,51.51 L258.88,51.27 L259.72,51.02 L260.57,50.78 L261.41,50.54 L262.26,50.30 L263.11,50.06 L263.95,49.82 L264.80,49.58 L265.64,49.33 L266.49,49.10 L267.34,48.86 L268.18,48.62 L269.03,48.38 L269.87,48.14 L270.72,47.90 L271.57,47.66 L272.41,47.43 L273.26,47.19 L274.10,46.95 L274.95,46.72 L275.80,46.48 L276.64,46.25 L277.49,46.01 L278.33,45.78 L279.18,45.54 L280.03,45.31 L280.87,45.07 L281.72,44.84 L282.56,44.61 L283.41,44.37 L284.26,44.14 L285.10,43.91 L285.95,43.67 L286.79,43.44 L287.64,43.21 L288.49,42.98 L289.33,42.75 L290.18,42.51 L291.02,42.28 L291.87,42.05 L292.72,41.82 L293.56,41.60 L294.36,41.44 L295.00,41.55 L295.26,42.29 L295.00,43.87 L294.36,46.05 L293.56,48.45 L292.72,50.86 L291.87,53.23 L291.02,55.56 L290.18,57.84 L289.33,60.07 L288.49,62.25 L287.64,64.39 L286.79,66.49 L285.95,68.54 L285.10,70.55 L284.26,72.52 L283.41,74.45 L282.56,76.35 L281.72,78.20 L280.87,80.02 L280.03,81.80 L279.18,83.55 L278.33,85.26 L277.49,86.93 L276.64,88.58 L275.80,90.19 L274.95,91.77 L274.10,93.32 L273.26,94.84 L272.41,96.33 L271.57,97.79 L270.72,99.23 L269.87,100.63 L269.03,102.01 L268.18,103.36 L267.34,104.69 L266.49,105.99 L265.64,107.27 L264.80,108.52 L263.95,109.75 L263.11,110.96 L262.26,112.14 L261.41,113.30 L260.57,114.44 L259.72,115.57 L258.88,116.67 L258.03,117.75 L257.18,118.81 L256.34,119.85 L255.49,120.87 L254.65,121.87 L253.80,122.86 L252.95,123.83 L252.11,124.78 L251.26,125.72 L250.42,126.64 L249.57,127.54 L248.72,128.43 L247.88,129.30 L247.03,130.16 L246.19,131.01 L245.34,131.84 L244.49,132.65 L243.65,133.46 L242.80,134.25 L241.96,135.02 L241.11,135.79 L240.26,136.54 L239.42,137.28 L238.57,138.00 L237.73,138.72 L236.88,139.43 L236.03,140.12 L235.19,140.80 L234.34,141.48 L233.50,142.14 L232.65,142.79 L231.80,143.44 L230.96,144.07 L230.11,144.69 L229.27,145.31 L228.42,145.91 L227.57,146.51 L226.73,147.10 L225.88,147.68 L225.04,148.25 L224.19,148.82 L223.34,149.37 L222.50,149.92 L221.65,150.46 L220.81,151.00 L219.96,151.53 L219.11,152.05 L218.27,152.56 L217.42,153.07 L216.58,153.57 L215.73,154.06 L214.88,154.55 L214.04,155.03 L213.19,155.51 L212.35,155.98 L211.50,156.44 L210.65,156.90 L209.81,157.35 L208.96,157.80 L208.12,158.25 L207.27,158.69 L206.42,159.12 L205.58,159.55 L204.73,159.97 L203.89,160.39 L203.04,160.81 L202.19,161.22 L201.35,161.62 L200.50,162.02 L199.66,162.42 L198.81,162.82 L197.96,163.21 L197.12,163.59 L196.27,163.98 L195.43,164.35 L194.58,164.73 L193.73,165.10 L192.89,165.47 L192.04,165.84 L191.20,166.20 L190.35,166.56 L189.50,166.91 L188.66,167.26 L187.81,167.61 L186.97,167.96 L186.12,168.31 L185.27,168.65 L184.43,168.98 L183.58,169.32 L182.74,169.65 L181.89,169.98 L181.04,170.31 L180.20,170.64 L179.35,170.96 L178.51,171.28 L177.66,171.60 L176.81,171.92 L175.97,172.23 L175.12,172.55 L174.28,172.86 L173.43,173.17 L172.58,173.47 L171.74,173.78 L170.89,174.08 L170.05,174.38 L169.20,174.68 L168.35,174.98 L167.51,175.27 L166.66,175.57 L165.82,175.86 L164.97,176.15 L164.12,176.44 L163.28,176.73 L162.43,177.01 L161.59,177.30 L160.74,177.58 L159.89,177.87 L159.05,178.15 L158.20,178.43 L157.36,178.70 L156.51,178.98 L155.66,179.26 L154.82,179.53 L153.97,179.80 L153.13,180.08 L152.28,180.35 L151.43,180.62 L150.59,180.88 L149.74,181.15 L148.90,181.42 L148.05,181.68 L147.20,181.95 L146.36,182.21 L145.51,182.48 L144.67,182.74 L143.82,183.00 L142.97,183.26 L142.13,183.52 L141.28,183.78 L140.44,184.03 L139.59,184.29 L138.74,184.55 L137.90,184.80 L137.05,185.06 L136.21,185.31 L135.36,185.56 L134.51,185.82 L133.67,186.07 L132.82,186.32 L131.98,186.57 L131.13,186.82 L130.28,187.07 L129.44,187.32 L128.59,187.56 L127.75,187.81 L126.90,188.06 L126.05,188.30 L125.21,188.55 L124.36,188.80 L123.52,189.04 L122.67,189.28 L121.82,189.53 L120.98,189.77 L120.13,190.01 L119.29,190.26 L118.44,190.50 L117.59,190.74 L116.75,190.98 L115.90,191.22 L115.06,191.46 L114.21,191.70 L113.36,191.94 L112.52,192.18 L111.67,192.42 L110.83,192.66 L109.98,192.89 L109.13,193.13 L108.29,193.37 L107.44,193.60 L106.60,193.84 L105.75,194.08 L104.90,194.31 L104.06,194.55 L103.21,194.78 L102.37,195.02 L101.52,195.25 L100.67,195.49 L99.83,195.72 L98.98,195.96 L98.14,196.19 L97.29,196.42 L96.44,196.66 L95.60,196.89 L94.75,197.12 L93.91,197.35 L93.06,197.59 L92.21,197.82 L91.37,198.05 L90.52,198.28 L89.68,198.51 L88.83,198.74 L87.98,198.97 L87.14,199.20 L86.34,199.36 L85.70,199.25Z" stroke="#5a0a14"/>
<path d="M85.27,205.93 L85.59,204.36 L86.31,202.18 L87.14,199.86 L87.98,197.56 L88.83,195.30 L89.68,193.08 L90.52,190.89 L91.37,188.75 L92.21,186.64 L93.06,184.57 L93.91,182.53 L94.75,180.53 L95.60,178.56 L96.44,176.62 L97.29,174.72 L98.14,172.85 L98.98,171.01 L99.83,169.21 L100.67,167.43 L101.52,165.68 L102.37,163.97 L103.21,162.28 L104.06,160.62 L104.90,158.99 L105.75,157.38 L106.60,155.80 L107.44,154.25 L108.29,152.72 L109.13,151.22 L109.98,149.74 L110.83,148.28 L111.67,146.85 L112.52,145.44 L113.36,144.06 L114.21,142.70 L115.06,141.36 L115.90,140.04 L116.75,138.74 L117.59,137.46 L118.44,136.20 L119.29,134.96 L120.13,133.74 L120.98,132.54 L121.82,131.36 L122.67,130.20 L123.52,129.05 L124.36,127.92 L125.21,126.81 L126.05,125.72 L126.90,124.64 L127.75,123.58 L128.59,122.53 L129.44,121.50 L130.28,120.49 L131.13,119.49 L131.98,118.50 L132.82,117.53 L133.67,116.57 L134.51,115.63 L135.36,114.70 L136.21,113.79 L137.05,112.88 L137.90,111.99 L138.74,111.11 L139.59,110.25 L140.44,109.40 L141.28,108.55 L142.13,107.72 L142.97,106.91 L143.82,106.10 L144.67,105.30 L145.51,104.52 L146.36,103.74 L147.20,102.98 L148.05,102.22 L148.90,101.48 L149.74,100.74 L150.59,100.01 L151.43,99.30 L152.28,98.59 L153.13,97.89 L153.97,97.20 L154.82,96.52 L155.66,95.85 L156.51,95.19 L157.36,94.53 L158.20,93.88 L159.05,93.24 L159.89,92.61 L160.74,91.98 L161.59,91.36 L162.43,90.75 L163.28,90.15 L164.12,89.55 L164.97,88.96 L165.82,88.38 L166.66,87.80 L167.51,87.23 L168.35,86.67 L169.20,86.11 L170.05,85.56 L170.89,85.01 L171.74,84.47 L172.58,83.94 L173.43,83.41 L174.28,82.89 L175.12,82.37 L175.97,81.86 L176.81,81.35 L177.66,80.85 L178.51,80.35 L179.35,79.86 L180.20,79.37 L181.04,78.89 L181.89,78.41 L182.74,77.94 L183.58,77.47 L184.43,77.00 L185.27,76.54 L186.12,76.08 L186.97,75.63 L187.81,75.18 L188.66,74.74 L189.50,74.30 L190.35,73.86 L191.20,73.42 L192.04,72.99 L192.89,72.57 L193.73,72.15 L194.58,71.73 L195.43,71.31 L196.27,70.90 L197.12,70.49 L197.96,70.08 L198.81,69.68 L199.66,69.28 L200.50,68.88 L201.35,68.48 L202.19,68.09 L203.04,67.70 L203.89,67.32 L204.73,66.93 L205.58,66.55 L206.42,66.18 L207.27,65.80 L208.12,65.43 L208.96,65.06 L209.81,64.69 L210.65,64.32 L211.50,63.96 L212.35,63.60 L213.19,63.24 L214.04,62.88 L214.88,62.53 L215.73,62.17 L216.58,61.82 L217.42,61.47 L218.27,61.13 L219.11,60.78 L219.96,60.44 L220.81,60.10 L221.65,59.76 L222.50,59.42 L223.34,59.09 L224.19,58.75 L225.04,58.42 L225.88,58.09 L226.73,57.76 L227.57,57.43 L228.42,57.11 L229.27,56.78 L230.11,56.46 L230.96,56.14 L231.80,55.82 L232.65,55.50 L233.50,55.18 L234.34,54.87 L235.19,54.55 L236.03,54.24 L236.88,53.93 L237.73,53.62 L238.57,53.31 L239.42,53.00 L240.26,52.69 L241.11,52.38 L241.96,52.08 L242.80,51.78 L243.65,51.47 L244.49,51.17 L245.34,50.87 L246.19,50.57 L247.03,50.27 L247.88,49.98 L248.72,49.68 L249.57,49.38 L250.42,49.09 L251.26,48.79 L252.11,48.50 L252.95,48.21 L253.80,47.92 L254.65,47.63 L255.49,47.34 L256.34,47.05 L257.18,46.76 L258.03,46.47 L258.88,46.19 L259.72,45.90 L260.57,45.62 L261.41,45.33 L262.26,45.05 L263.11,44.77 L263.95,44.49 L264.80,44.20 L265.64,43.92 L266.49,43.64 L267.34,43.36 L268.18,43.09 L269.03,42.81 L269.87,42.53 L270.72,42.25 L271.57,41.98 L272.41,41.70 L273.26,41.42 L274.10,41.15 L274.95,40.88 L275.80,40.60 L276.64,40.33 L277.49,40.06 L278.33,39.78 L279.18,39.51 L280.03,39.24 L280.87,38.97 L281.72,38.70 L282.56,38.43 L283.41,38.16 L284.26,37.89 L285.10,37.62 L285.95,37.35 L286.79,37.08 L287.64,36.82 L288.49,36.55 L289.33,36.28 L290.18,36.02 L291.02,35.75 L291.87,35.48 L292.72,35.22 L293.56,34.95 L294.39,34.71 L295.11,34.65 L295.43,35.23 L295.11,36.79 L294.39,38.97 L293.56,41.29 L292.72,43.59 L291.87,45.86 L291.02,48.08 L290.18,50.26 L289.33,52.41 L288.49,54.52 L287.64,56.59 L286.79,58.63 L285.95,60.63 L285.10,62.60 L284.26,64.53 L283.41,66.43 L282.56,68.30 L281.72,70.14 L280.87,71.95 L280.03,73.72 L279.18,75.47 L278.33,77.19 L277.49,78.88 L276.64,80.54 L275.80,82.17 L274.95,83.78 L274.10,85.36 L273.26,86.91 L272.41,88.44 L271.57,89.94 L270.72,91.42 L269.87,92.87 L269.03,94.30 L268.18,95.71 L267.34,97.10 L266.49,98.46 L265.64,99.80 L264.80,101.12 L263.95,102.42 L263.11,103.70 L262.26,104.96 L261.41,106.20 L260.57,107.41 L259.72,108.62 L258.88,109.80 L258.03,110.96 L257.18,112.11 L256.34,113.23 L255.49,114.35 L254.65,115.44 L253.80,116.52 L252.95,117.58 L252.11,118.62 L251.26,119.65 L250.42,120.67 L249.57,121.67 L248.72,122.65 L247.88,123.63 L247.03,124.58 L246.19,125.52 L245.34,126.45 L244.49,127.37 L243.65,128.27 L242.80,129.16 L241.96,130.04 L241.11,130.91 L240.26,131.76 L239.42,132.60 L238.57,133.43 L237.73,134.25 L236.88,135.06 L236.03,135.85 L235.19,136.64 L234.34,137.41 L233.50,138.18 L232.65,138.93 L231.80,139.68 L230.96,140.42 L230.11,141.14 L229.27,141.86 L228.42,142.57 L227.57,143.26 L226.73,143.95 L225.88,144.63 L225.04,145.31 L224.19,145.97 L223.34,146.63 L222.50,147.28 L221.65,147.92 L220.81,148.55 L219.96,149.17 L219.11,149.79 L218.27,150.40 L217.42,151.01 L216.58,151.60 L215.73,152.19 L214.88,152.78 L214.04,153.35 L213.19,153.92 L212.35,154.49 L211.50,155.04 L210.65,155.60 L209.81,156.14 L208.96,156.68 L208.12,157.22 L207.27,157.74 L206.42,158.27 L205.58,158.79 L204.73,159.30 L203.89,159.81 L203.04,160.31 L202.19,160.80 L201.35,161.30 L200.50,161.79 L199.66,162.27 L198.81,162.75 L197.96,163.22 L197.12,163.69 L196.27,164.16 L195.43,164.62 L194.58,165.07 L193.73,165.53 L192.89,165.97 L192.04,166.42 L191.20,166.86 L190.35,167.30 L189.50,167.73 L188.66,168.16 L187.81,168.59 L186.97,169.01 L186.12,169.43 L185.27,169.85 L184.43,170.26 L183.58,170.67 L182.74,171.08 L181.89,171.48 L181.04,171.88 L180.20,172.28 L179.35,172.67 L178.51,173.06 L177.66,173.45 L176.81,173.84 L175.97,174.22 L175.12,174.60 L174.28,174.98 L173.43,175.36 L172.58,175.73 L171.74,176.10 L170.89,176.47 L170.05,176.83 L169.20,177.20 L168.35,177.56 L167.51,177.92 L166.66,178.27 L165.82,178.63 L164.97,178.98 L164.12,179.33 L163.28,179.68 L162.43,180.03 L161.59,180.37 L160.74,180.72 L159.89,181.06 L159.05,181.40 L158.20,181.73 L157.36,182.07 L156.51,182.40 L155.66,182.74 L154.82,183.07 L153.97,183.40 L153.13,183.72 L152.28,184.05 L151.43,184.37 L150.59,184.70 L149.74,185.02 L148.90,185.34 L148.05,185.66 L147.20,185.97 L146.36,186.29 L145.51,186.60 L144.67,186.92 L143.82,187.23 L142.97,187.54 L142.13,187.85 L141.28,188.16 L140.44,188.47 L139.59,188.77 L138.74,189.08 L137.90,189.38 L137.05,189.68 L136.21,189.98 L135.36,190.29 L134.51,190.58 L133.67,190.88 L132.82,191.18 L131.98,191.48 L131.13,191.77 L130.28,192.07 L129.44,192.36 L128.59,192.65 L127.75,192.95 L126.90,193.24 L126.05,193.53 L125.21,193.82 L124.36,194.11 L123.52,194.39 L122.67,194.68 L121.82,194.97 L120.98,195.25 L120.13,195.54 L119.29,195.82 L118.44,196.11 L117.59,196.39 L116.75,196.67 L115.90,196.95 L115.06,197.23 L114.21,197.51 L113.36,197.79 L112.52,198.07 L111.67,198.35 L110.83,198.63 L109.98,198.90 L109.13,199.18 L108.29,199.46 L107.44,199.73 L106.60,200.01 L105.75,200.28 L104.90,200.55 L104.06,200.83 L103.21,201.10 L102.37,201.37 L101.52,201.65 L100.67,201.92 L99.83,202.19 L98.98,202.46 L98.14,202.73 L97.29,203.00 L96.44,203.27 L95.60,203.54 L94.75,203.80 L93.91,204.07 L93.06,204.34 L92.21,204.61 L91.37,204.87 L90.52,205.14 L89.68,205.41 L88.83,205.67 L87.98,205.94 L87.14,206.20 L86.31,206.44 L85.59,206.51Z" stroke="#9a9a28"/>
<path d="M85.10,214.14 L85.50,212.46 L86.29,210.16 L87.14,207.82 L87.98,205.52 L88.83,203.25 L89.68,201.02 L90.52,198.82 L91.37,196.66 L92.21,194.54 L93.06,192.44 L93.91,190.39 L94.75,188.36 L95.60,186.37 L96.44,184.41 L97.29,182.48 L98.14,180.58 L98.98,178.71 L99.83,176.87 L100.67,175.06 L101.52,173.27 L102.37,171.52 L103.21,169.79 L104.06,168.09 L104.90,166.41 L105.75,164.76 L106.60,163.14 L107.44,161.54 L108.29,159.96 L109.13,158.41 L109.98,156.89 L110.83,155.38 L111.67,153.90 L112.52,152.44 L113.36,151.00 L114.21,149.58 L115.06,148.19 L115.90,146.81 L116.75,145.46 L117.59,144.12 L118.44,142.81 L119.29,141.51 L120.13,140.23 L120.98,138.98 L121.82,137.73 L122.67,136.51 L123.52,135.31 L124.36,134.12 L125.21,132.94 L126.05,131.79 L126.90,130.65 L127.75,129.53 L128.59,128.42 L129.44,127.33 L130.28,126.25 L131.13,125.19 L131.98,124.14 L132.82,123.10 L133.67,122.08 L134.51,121.08 L135.36,120.09 L136.21,119.11 L137.05,118.14 L137.90,117.18 L138.74,116.24 L139.59,115.31 L140.44,114.40 L141.28,113.49 L142.13,112.60 L142.97,111.71 L143.82,110.84 L144.67,109.98 L145.51,109.13 L146.36,108.29 L147.20,107.46 L148.05,106.65 L148.90,105.84 L149.74,105.04 L150.59,104.25 L151.43,103.47 L152.28,102.70 L153.13,101.94 L153.97,101.18 L154.82,100.44 L155.66,99.70 L156.51,98.98 L157.36,98.26 L158.20,97.55 L159.05,96.85 L159.89,96.15 L160.74,95.46 L161.59,94.79 L162.43,94.11 L163.28,93.45 L164.12,92.79 L164.97,92.14 L165.82,91.50 L166.66,90.86 L167.51,90.23 L168.35,89.61 L169.20,88.99 L170.05,88.38 L170.89,87.77 L171.74,87.17 L172.58,86.58 L173.43,85.99 L174.28,85.41 L175.12,84.84 L175.97,84.27 L176.81,83.70 L177.66,83.14 L178.51,82.59 L179.35,82.04 L180.20,81.49 L181.04,80.95 L181.89,80.42 L182.74,79.89 L183.58,79.36 L184.43,78.84 L185.27,78.33 L186.12,77.81 L186.97,77.31 L187.81,76.80 L188.66,76.30 L189.50,75.81 L190.35,75.32 L191.20,74.83 L192.04,74.35 L192.89,73.87 L193.73,73.39 L194.58,72.92 L195.43,72.45 L196.27,71.99 L197.12,71.53 L197.96,71.07 L198.81,70.61 L199.66,70.16 L200.50,69.71 L201.35,69.27 L202.19,68.83 L203.04,68.39 L203.89,67.95 L204.73,67.52 L205.58,67.09 L206.42,66.66 L207.27,66.24 L208.12,65.81 L208.96,65.40 L209.81,64.98 L210.65,64.56 L211.50,64.15 L212.35,63.74 L213.19,63.34 L214.04,62.93 L214.88,62.53 L215.73,62.13 L216.58,61.73 L217.42,61.34 L218.27,60.95 L219.11,60.55 L219.96,60.17 L220.81,59.78 L221.65,59.39 L222.50,59.01 L223.34,58.63 L224.19,58.25 L225.04,57.87 L225.88,57.50 L226.73,57.13 L227.57,56.75 L228.42,56.38 L229.27,56.02 L230.11,55.65 L230.96,55.29 L231.80,54.92 L232.65,54.56 L233.50,54.20 L234.34,53.84 L235.19,53.48 L236.03,53.13 L236.88,52.77 L237.73,52.42 L238.57,52.07 L239.42,51.72 L240.26,51.37 L241.11,51.02 L241.96,50.68 L242.80,50.33 L243.65,49.99 L244.49,49.65 L245.34,49.31 L246.19,48.97 L247.03,48.63 L247.88,48.29 L248.72,47.95 L249.57,47.62 L250.42,47.28 L251.26,46.95 L252.11,46.62 L252.95,46.29 L253.80,45.95 L254.65,45.63 L255.49,45.30 L256.34,44.97 L257.18,44.64 L258.03,44.32 L258.88,43.99 L259.72,43.67 L260.57,43.35 L261.41,43.02 L262.26,42.70 L263.11,42.38 L263.95,42.06 L264.80,41.74 L265.64,41.42 L266.49,41.11 L267.34,40.79 L268.18,40.47 L269.03,40.16 L269.87,39.84 L270.72,39.53 L271.57,39.22 L272.41,38.90 L273.26,38.59 L274.10,38.28 L274.95,37.97 L275.80,37.66 L276.64,37.35 L277.49,37.04 L278.33,36.73 L279.18,36.43 L280.03,36.12 L280.87,35.81 L281.72,35.51 L282.56,35.20 L283.41,34.89 L284.26,34.59 L285.10,34.29 L285.95,33.98 L286.79,33.68 L287.64,33.38 L288.49,33.07 L289.33,32.77 L290.18,32.47 L291.02,32.17 L291.87,31.87 L292.72,31.57 L293.56,31.27 L294.41,30.97 L295.20,30.76 L295.60,31.19 L295.20,32.87 L294.41,35.17 L293.56,37.51 L292.72,39.82 L291.87,42.08 L291.02,44.32 L290.18,46.51 L289.33,48.67 L288.49,50.80 L287.64,52.89 L286.79,54.95 L285.95,56.97 L285.10,58.96 L284.26,60.92 L283.41,62.85 L282.56,64.75 L281.72,66.62 L280.87,68.46 L280.03,70.28 L279.18,72.06 L278.33,73.81 L277.49,75.54 L276.64,77.24 L275.80,78.92 L274.95,80.57 L274.10,82.19 L273.26,83.79 L272.41,85.37 L271.57,86.92 L270.72,88.45 L269.87,89.95 L269.03,91.43 L268.18,92.89 L267.34,94.33 L266.49,95.75 L265.64,97.14 L264.80,98.52 L263.95,99.87 L263.11,101.21 L262.26,102.52 L261.41,103.82 L260.57,105.10 L259.72,106.36 L258.88,107.60 L258.03,108.82 L257.18,110.03 L256.34,111.22 L255.49,112.39 L254.65,113.54 L253.80,114.68 L252.95,115.81 L252.11,116.91 L251.26,118.01 L250.42,119.08 L249.57,120.15 L248.72,121.19 L247.88,122.23 L247.03,123.25 L246.19,124.25 L245.34,125.25 L244.49,126.23 L243.65,127.19 L242.80,128.15 L241.96,129.09 L241.11,130.02 L240.26,130.94 L239.42,131.84 L238.57,132.74 L237.73,133.62 L236.88,134.49 L236.03,135.35 L235.19,136.20 L234.34,137.04 L233.50,137.87 L232.65,138.69 L231.80,139.50 L230.96,140.29 L230.11,141.08 L229.27,141.86 L228.42,142.63 L227.57,143.40 L226.73,144.15 L225.88,144.89 L225.04,145.63 L224.19,146.35 L223.34,147.07 L222.50,147.78 L221.65,148.49 L220.81,149.18 L219.96,149.87 L219.11,150.55 L218.27,151.22 L217.42,151.88 L216.58,152.54 L215.73,153.19 L214.88,153.84 L214.04,154.47 L213.19,155.10 L212.35,155.73 L211.50,156.34 L210.65,156.95 L209.81,157.56 L208.96,158.16 L208.12,158.75 L207.27,159.34 L206.42,159.92 L205.58,160.50 L204.73,161.07 L203.89,161.63 L203.04,162.19 L202.19,162.75 L201.35,163.30 L200.50,163.84 L199.66,164.38 L198.81,164.91 L197.96,165.44 L197.12,165.97 L196.27,166.49 L195.43,167.01 L194.58,167.52 L193.73,168.02 L192.89,168.53 L192.04,169.03 L191.20,169.52 L190.35,170.01 L189.50,170.50 L188.66,170.98 L187.81,171.46 L186.97,171.94 L186.12,172.41 L185.27,172.88 L184.43,173.34 L183.58,173.81 L182.74,174.26 L181.89,174.72 L181.04,175.17 L180.20,175.62 L179.35,176.06 L178.51,176.50 L177.66,176.94 L176.81,177.38 L175.97,177.81 L175.12,178.24 L174.28,178.67 L173.43,179.10 L172.58,179.52 L171.74,179.94 L170.89,180.35 L170.05,180.77 L169.20,181.18 L168.35,181.59 L167.51,181.99 L166.66,182.40 L165.82,182.80 L164.97,183.20 L164.12,183.60 L163.28,183.99 L162.43,184.39 L161.59,184.78 L160.74,185.17 L159.89,185.55 L159.05,185.94 L158.20,186.32 L157.36,186.70 L156.51,187.08 L155.66,187.46 L154.82,187.83 L153.97,188.21 L153.13,188.58 L152.28,188.95 L151.43,189.32 L150.59,189.68 L149.74,190.05 L148.90,190.41 L148.05,190.77 L147.20,191.13 L146.36,191.49 L145.51,191.85 L144.67,192.20 L143.82,192.56 L142.97,192.91 L142.13,193.26 L141.28,193.61 L140.44,193.96 L139.59,194.31 L138.74,194.65 L137.90,195.00 L137.05,195.34 L136.21,195.69 L135.36,196.03 L134.51,196.37 L133.67,196.71 L132.82,197.04 L131.98,197.38 L131.13,197.72 L130.28,198.05 L129.44,198.38 L128.59,198.72 L127.75,199.05 L126.90,199.38 L126.05,199.71 L125.21,200.03 L124.36,200.36 L123.52,200.69 L122.67,201.01 L121.82,201.34 L120.98,201.66 L120.13,201.99 L119.29,202.31 L118.44,202.63 L117.59,202.95 L116.75,203.27 L115.90,203.59 L115.06,203.91 L114.21,204.23 L113.36,204.54 L112.52,204.86 L111.67,205.17 L110.83,205.49 L109.98,205.80 L109.13,206.12 L108.29,206.43 L107.44,206.74 L106.60,207.05 L105.75,207.36 L104.90,207.67 L104.06,207.98 L103.21,208.29 L102.37,208.60 L101.52,208.91 L100.67,209.21 L99.83,209.52 L98.98,209.83 L98.14,210.13 L97.29,210.44 L96.44,210.74 L95.60,211.05 L94.75,211.35 L93.91,211.65 L93.06,211.95 L92.21,212.26 L91.37,212.56 L90.52,212.86 L89.68,213.16 L88.83,213.46 L87.98,213.76 L87.14,214.06 L86.29,214.36 L85.50,214.57Z" stroke="#3d6d92"/>
</g>
<rect x="64.0" y="10.8" width="263.40" height="216.05" fill="none" stroke="#000" stroke-width="2.3"/>
<path d="M58.50,10.85H64.00 M58.50,64.85H64.00 M58.50,118.85H64.00 M58.50,172.85H64.00 M58.50,226.85H64.00 M61.00,37.85H64.00 M61.00,91.85H64.00 M61.00,145.85H64.00 M61.00,199.85H64.00 M84.60,226.85V232.25 M126.90,226.85V232.25 M169.20,226.85V232.25 M211.50,226.85V232.25 M253.80,226.85V232.25 M296.10,226.85V232.25 M105.75,226.85V230.25 M148.05,226.85V230.25 M190.35,226.85V230.25 M232.65,226.85V230.25 M274.95,226.85V230.25 M317.25,226.85V230.25 M64.00,226.85V230.05" stroke="#000" stroke-width="2" fill="none"/>
<text x="56.60" y="17.35" font-size="18.8" text-anchor="end" >3.0</text>
<text x="56.60" y="71.35" font-size="18.8" text-anchor="end" >1.5</text>
<text x="56.60" y="125.35" font-size="18.8" text-anchor="end" >0.0</text>
<text x="56.60" y="179.35" font-size="18.8" text-anchor="end" >-1.5</text>
<text x="56.60" y="233.35" font-size="18.8" text-anchor="end" >-3.0</text>
<text x="84.90" y="249.00" font-size="18.7" text-anchor="middle" >-1.0</text>
<text x="127.20" y="249.00" font-size="18.7" text-anchor="middle" >-0.8</text>
<text x="169.50" y="249.00" font-size="18.7" text-anchor="middle" >-0.6</text>
<text x="211.80" y="249.00" font-size="18.7" text-anchor="middle" >-0.4</text>
<text x="254.10" y="249.00" font-size="18.7" text-anchor="middle" >-0.2</text>
<text x="296.40" y="249.00" font-size="18.7" text-anchor="middle" >0.0</text>
<text x="190.50" y="269.70" font-size="18.6" text-anchor="middle" textLength="111.00" lengthAdjust="spacingAndGlyphs" >Potential (V)</text>
<text transform="translate(18.7,119.0) rotate(-90)" x="0" y="0" font-size="21.5" text-anchor="middle" textLength="137.5" lengthAdjust="spacingAndGlyphs">Current (A/g)</text>
<text x="76.20" y="31.60" font-size="14.3" text-anchor="start" textLength="64.40" lengthAdjust="spacingAndGlyphs" >200 mV/s</text>
<text x="79.30" y="76.50" font-size="14.3" text-anchor="start" textLength="47.50" lengthAdjust="spacingAndGlyphs" >5 mV/s</text>
<text x="301.00" y="30.60" font-size="17.5" text-anchor="start" textLength="23.00" lengthAdjust="spacingAndGlyphs" >[a]</text>
<path d="M101.8,61.5V42" stroke="#000" stroke-width="1.9"/>
<path d="M101.8,35.2L98.2,43.2H105.4Z" fill="#000"/>
<rect x="404.6" y="12.4" width="265.60" height="215.55" fill="none" stroke="#000" stroke-width="2.3"/>
<path d="M399.10,227.95H404.60 M399.10,174.06H404.60 M399.10,120.17H404.60 M399.10,66.29H404.60 M399.10,12.40H404.60 M401.60,201.01H404.60 M401.60,147.12H404.60 M401.60,93.23H404.60 M401.60,39.34H404.60 M431.00,227.95V232.55 M484.25,227.95V232.55 M537.50,227.95V232.55 M590.75,227.95V232.55 M644.00,227.95V232.55 M457.62,227.95V230.75 M510.88,227.95V230.75 M564.12,227.95V230.75 M617.38,227.95V230.75 M404.60,227.95V230.75 M670.20,227.95V230.75" stroke="#000" stroke-width="2" fill="none"/>
<text x="396.60" y="233.55" font-size="18.0" text-anchor="end" >0</text>
<text x="396.60" y="179.66" font-size="18.0" text-anchor="end" >15</text>
<text x="396.60" y="125.77" font-size="18.0" text-anchor="end" >30</text>
<text x="396.60" y="71.89" font-size="18.0" text-anchor="end" >45</text>
<text x="396.60" y="18.00" font-size="18.0" text-anchor="end" >60</text>
<text x="431.00" y="248.50" font-size="18.5" text-anchor="middle" >0</text>
<text x="484.25" y="248.50" font-size="18.5" text-anchor="middle" >50</text>
<text x="537.50" y="248.50" font-size="18.5" text-anchor="middle" >100</text>
<text x="590.75" y="248.50" font-size="18.5" text-anchor="middle" >150</text>
<text x="644.00" y="248.50" font-size="18.5" text-anchor="middle" >200</text>
<text x="537.90" y="272.50" font-size="17.5" text-anchor="middle" textLength="148.60" lengthAdjust="spacingAndGlyphs" >Scan Rate (mV/s)</text>
<text transform="translate(368.6,120.2) rotate(-90)" x="0" y="0" font-size="18" text-anchor="middle" textLength="185.4" lengthAdjust="spacingAndGlyphs">Sp. Capacitance (F/g)</text>
<text x="408.80" y="33.80" font-size="17.5" text-anchor="start" textLength="22.00" lengthAdjust="spacingAndGlyphs" >[b]</text>
<path d="M436.32,45.00 C437.21,49.47 438.99,63.90 441.65,71.80 C444.31,79.70 447.86,86.12 452.30,92.40 C456.74,98.68 462.95,104.68 468.27,109.50 C473.60,114.32 477.15,116.62 484.25,121.30 C491.35,125.98 502.00,132.75 510.88,137.60 C519.75,142.45 528.62,146.90 537.50,150.40 C546.38,153.90 555.25,156.02 564.12,158.60 C573.00,161.18 581.88,163.68 590.75,165.90 C599.62,168.12 608.50,170.13 617.38,171.90 C626.25,173.67 639.56,175.73 644.00,176.50" fill="none" stroke="#0a0ad0" stroke-width="3"/>
<path d="M436.32,40.00V50.00M433.32,40.00H439.32M433.32,50.00H439.32M441.65,68.20V75.40M438.65,68.20H444.65M438.65,75.40H444.65M452.30,88.90V95.90M449.30,88.90H455.30M449.30,95.90H455.30M468.27,106.00V113.00M465.27,106.00H471.27M465.27,113.00H471.27M484.25,117.80V124.80M481.25,117.80H487.25M481.25,124.80H487.25M510.88,132.60V142.60M507.88,132.60H513.88M507.88,142.60H513.88M537.50,145.90V154.90M534.50,145.90H540.50M534.50,154.90H540.50M564.12,154.60V162.60M561.12,154.60H567.12M561.12,162.60H567.12M590.75,161.90V169.90M587.75,161.90H593.75M587.75,169.90H593.75M617.38,168.10V175.70M614.38,168.10H620.38M614.38,175.70H620.38M644.00,174.30V178.70M641.00,174.30H647.00M641.00,178.70H647.00" stroke="#000" stroke-width="1.6" fill="none"/>
<rect x="434.12" y="42.80" width="4.4" height="4.4" fill="#1010c8"/>
<rect x="439.45" y="69.60" width="4.4" height="4.4" fill="#1010c8"/>
<rect x="450.10" y="90.20" width="4.4" height="4.4" fill="#1010c8"/>
<rect x="466.07" y="107.30" width="4.4" height="4.4" fill="#1010c8"/>
<rect x="482.05" y="119.10" width="4.4" height="4.4" fill="#1010c8"/>
<rect x="508.68" y="135.40" width="4.4" height="4.4" fill="#1010c8"/>
<rect x="535.30" y="148.20" width="4.4" height="4.4" fill="#1010c8"/>
<rect x="561.92" y="156.40" width="4.4" height="4.4" fill="#1010c8"/>
<rect x="588.55" y="163.70" width="4.4" height="4.4" fill="#1010c8"/>
<rect x="615.17" y="169.70" width="4.4" height="4.4" fill="#1010c8"/>
<rect x="641.80" y="174.30" width="4.4" height="4.4" fill="#1010c8"/>
<defs>
<filter id="speck" x="-10%" y="-5%" width="120%" height="110%" color-interpolation-filters="sRGB">
<feTurbulence type="fractalNoise" baseFrequency="1.15" numOctaves="2" seed="7" result="n"/>
<feColorMatrix in="n" type="matrix" values="0 0 0 0 0.45  0 0 0 0 0.45  0 0 0 0 0.45  0 0 0 -4 2.15" result="dark"/>
<feColorMatrix in="n" type="matrix" values="0 0 0 0 0.86  0 0 0 0 0.86  0 0 0 0 0.86  0 0 0 5 -2.25" result="light"/>
<feComposite in="dark" in2="SourceGraphic" operator="in" result="d2"/>
<feComposite in="light" in2="SourceGraphic" operator="in" result="l2"/>
<feMerge><feMergeNode in="SourceGraphic"/><feMergeNode in="d2"/><feMergeNode in="l2"/></feMerge>
</filter>
</defs>
<defs><path id="strip" d="M541.70,26.40 C545.20,31.50 549.60,38.00 549.60,50.00 C549.60,62.00 535.80,88.00 535.80,104.00 C535.80,112.00 539.00,119.00 542.40,122.60 L563.90,122.60 C560.50,119.00 557.30,112.00 557.30,104.00 C557.30,88.00 571.10,62.00 571.10,50.00 C571.10,38.00 566.70,31.50 563.20,26.40Z"/></defs>
<use href="#strip" transform="translate(0,0)" fill="#b2b2b2" stroke="none" filter="url(#speck)"/><use href="#strip" transform="translate(0,0)" fill="none" stroke="#000" stroke-width="1.25"/>
<use href="#strip" transform="translate(14.6,-4.1)" fill="#a2c8ee" stroke="none"/><use href="#strip" transform="translate(14.6,-4.1)" fill="none" stroke="#000" stroke-width="1.25"/>
<use href="#strip" transform="translate(27.5,-8.2)" fill="#b2b2b2" stroke="none" filter="url(#speck)"/><use href="#strip" transform="translate(27.5,-8.2)" fill="none" stroke="#000" stroke-width="1.25"/>
<path d="M596.8,65.6H568.5" stroke="#000" stroke-width="1.2"/><path d="M565.2,65.6l4.2,-2.1v4.2z" fill="#000"/>
<path d="M593.8,87.2H574.5" stroke="#000" stroke-width="1.2"/><path d="M571.2,87.2l4.2,-2.1v4.2z" fill="#000"/>
<text x="596.60" y="69.50" font-size="13" text-anchor="start" textLength="61.40" lengthAdjust="spacingAndGlyphs" >Separator</text>
<text x="594.40" y="90.30" font-size="13" text-anchor="start" textLength="64.50" lengthAdjust="spacingAndGlyphs" >Jute based</text>
<text x="594.70" y="106.60" font-size="13" text-anchor="start" textLength="57.00" lengthAdjust="spacingAndGlyphs" >Electrode</text>
<path d="M552.5,122.6V133.1H559M575.6,133.1H580.1V114.3" fill="none" stroke="#7090c4" stroke-width="1.4"/>
<circle cx="567.25" cy="133.45" r="8.5" fill="#5b9bd5" stroke="#4a84bd" stroke-width="0.8"/>
<text x="567.2" y="138.1" font-size="12.5" font-weight="normal" text-anchor="middle" fill="#0c1a38" stroke="#0c1a38" stroke-width="0.55">V</text>
</g></g></svg>
</body></html>
